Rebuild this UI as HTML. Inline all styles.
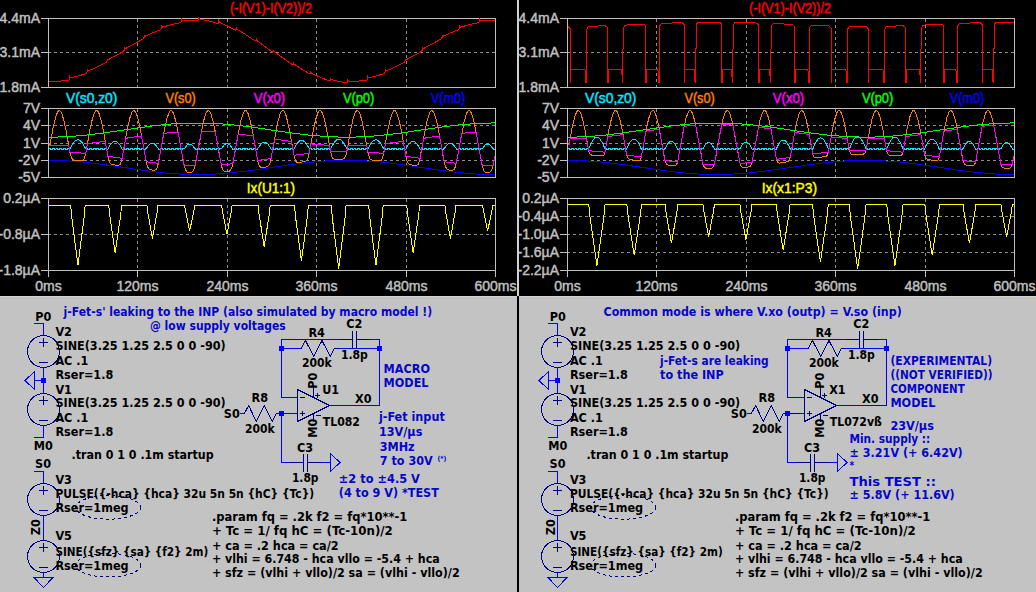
<!DOCTYPE html>
<html><head><meta charset="utf-8"><title>LTspice</title>
<style>html,body{margin:0;padding:0;background:#000;width:1036px;height:592px;overflow:hidden}svg{display:block}text{white-space:pre}</style>
</head><body>
<svg width="1036" height="592" viewBox="0 0 1036 592" shape-rendering="crispEdges"><defs><clipPath id="cl"><rect x="49" y="0" width="446" height="296"/></clipPath><clipPath id="cr"><rect x="568" y="0" width="446" height="296"/></clipPath></defs><rect x="0.00" y="0.00" width="1036.00" height="592.00" fill="#000"/>
<rect x="0.00" y="0.00" width="517.00" height="296.00" fill="#000"/>
<line x1="137.50" y1="19.00" x2="137.50" y2="87.00" stroke="#8c8c8c" stroke-width="1" stroke-dasharray="3 3"/>
<line x1="227.50" y1="19.00" x2="227.50" y2="87.00" stroke="#8c8c8c" stroke-width="1" stroke-dasharray="3 3"/>
<line x1="316.50" y1="19.00" x2="316.50" y2="87.00" stroke="#8c8c8c" stroke-width="1" stroke-dasharray="3 3"/>
<line x1="406.50" y1="19.00" x2="406.50" y2="87.00" stroke="#8c8c8c" stroke-width="1" stroke-dasharray="3 3"/>
<line x1="48.00" y1="52.50" x2="495.00" y2="52.50" stroke="#8c8c8c" stroke-width="1" stroke-dasharray="3 3"/>
<line x1="137.50" y1="109.00" x2="137.50" y2="177.00" stroke="#8c8c8c" stroke-width="1" stroke-dasharray="3 3"/>
<line x1="227.50" y1="109.00" x2="227.50" y2="177.00" stroke="#8c8c8c" stroke-width="1" stroke-dasharray="3 3"/>
<line x1="316.50" y1="109.00" x2="316.50" y2="177.00" stroke="#8c8c8c" stroke-width="1" stroke-dasharray="3 3"/>
<line x1="406.50" y1="109.00" x2="406.50" y2="177.00" stroke="#8c8c8c" stroke-width="1" stroke-dasharray="3 3"/>
<line x1="48.00" y1="125.50" x2="495.00" y2="125.50" stroke="#8c8c8c" stroke-width="1" stroke-dasharray="3 3"/>
<line x1="48.00" y1="143.50" x2="495.00" y2="143.50" stroke="#8c8c8c" stroke-width="1" stroke-dasharray="3 3"/>
<line x1="48.00" y1="160.50" x2="495.00" y2="160.50" stroke="#8c8c8c" stroke-width="1" stroke-dasharray="3 3"/>
<line x1="137.50" y1="199.00" x2="137.50" y2="270.00" stroke="#8c8c8c" stroke-width="1" stroke-dasharray="3 3"/>
<line x1="227.50" y1="199.00" x2="227.50" y2="270.00" stroke="#8c8c8c" stroke-width="1" stroke-dasharray="3 3"/>
<line x1="316.50" y1="199.00" x2="316.50" y2="270.00" stroke="#8c8c8c" stroke-width="1" stroke-dasharray="3 3"/>
<line x1="406.50" y1="199.00" x2="406.50" y2="270.00" stroke="#8c8c8c" stroke-width="1" stroke-dasharray="3 3"/>
<line x1="48.00" y1="234.50" x2="495.00" y2="234.50" stroke="#8c8c8c" stroke-width="1" stroke-dasharray="3 3"/>
<line x1="41.00" y1="18.50" x2="48.00" y2="18.50" stroke="#c0c0c0" stroke-width="1" />
<text x="40.00" y="23.00" fill="#c0c0c0" stroke="#c0c0c0" style="font-family:'Liberation Sans',sans-serif;font-weight:normal;font-size:14px;stroke-width:0.45px" text-anchor="end">4.4mA</text>
<line x1="41.00" y1="52.50" x2="48.00" y2="52.50" stroke="#c0c0c0" stroke-width="1" />
<text x="40.00" y="57.00" fill="#c0c0c0" stroke="#c0c0c0" style="font-family:'Liberation Sans',sans-serif;font-weight:normal;font-size:14px;stroke-width:0.45px" text-anchor="end">3.1mA</text>
<line x1="41.00" y1="87.50" x2="48.00" y2="87.50" stroke="#c0c0c0" stroke-width="1" />
<text x="40.00" y="92.00" fill="#c0c0c0" stroke="#c0c0c0" style="font-family:'Liberation Sans',sans-serif;font-weight:normal;font-size:14px;stroke-width:0.45px" text-anchor="end">1.8mA</text>
<line x1="41.00" y1="108.50" x2="48.00" y2="108.50" stroke="#c0c0c0" stroke-width="1" />
<text x="40.00" y="113.00" fill="#c0c0c0" stroke="#c0c0c0" style="font-family:'Liberation Sans',sans-serif;font-weight:normal;font-size:14px;stroke-width:0.45px" text-anchor="end">7V</text>
<line x1="41.00" y1="125.50" x2="48.00" y2="125.50" stroke="#c0c0c0" stroke-width="1" />
<text x="40.00" y="130.00" fill="#c0c0c0" stroke="#c0c0c0" style="font-family:'Liberation Sans',sans-serif;font-weight:normal;font-size:14px;stroke-width:0.45px" text-anchor="end">4V</text>
<line x1="41.00" y1="143.50" x2="48.00" y2="143.50" stroke="#c0c0c0" stroke-width="1" />
<text x="40.00" y="148.00" fill="#c0c0c0" stroke="#c0c0c0" style="font-family:'Liberation Sans',sans-serif;font-weight:normal;font-size:14px;stroke-width:0.45px" text-anchor="end">1V</text>
<line x1="41.00" y1="160.50" x2="48.00" y2="160.50" stroke="#c0c0c0" stroke-width="1" />
<text x="40.00" y="165.00" fill="#c0c0c0" stroke="#c0c0c0" style="font-family:'Liberation Sans',sans-serif;font-weight:normal;font-size:14px;stroke-width:0.45px" text-anchor="end">-2V</text>
<line x1="41.00" y1="177.50" x2="48.00" y2="177.50" stroke="#c0c0c0" stroke-width="1" />
<text x="40.00" y="182.00" fill="#c0c0c0" stroke="#c0c0c0" style="font-family:'Liberation Sans',sans-serif;font-weight:normal;font-size:14px;stroke-width:0.45px" text-anchor="end">-5V</text>
<line x1="41.00" y1="198.50" x2="48.00" y2="198.50" stroke="#c0c0c0" stroke-width="1" />
<text x="40.00" y="203.00" fill="#c0c0c0" stroke="#c0c0c0" style="font-family:'Liberation Sans',sans-serif;font-weight:normal;font-size:14px;stroke-width:0.45px" text-anchor="end">0.2µA</text>
<line x1="41.00" y1="234.50" x2="48.00" y2="234.50" stroke="#c0c0c0" stroke-width="1" />
<text x="40.00" y="239.00" fill="#c0c0c0" stroke="#c0c0c0" style="font-family:'Liberation Sans',sans-serif;font-weight:normal;font-size:14px;stroke-width:0.45px" text-anchor="end">-0.8µA</text>
<line x1="41.00" y1="270.50" x2="48.00" y2="270.50" stroke="#c0c0c0" stroke-width="1" />
<text x="40.00" y="275.00" fill="#c0c0c0" stroke="#c0c0c0" style="font-family:'Liberation Sans',sans-serif;font-weight:normal;font-size:14px;stroke-width:0.45px" text-anchor="end">-1.8µA</text>
<line x1="48.50" y1="270.00" x2="48.50" y2="277.00" stroke="#c0c0c0" stroke-width="1" />
<text x="48.50" y="290.50" fill="#c0c0c0" stroke="#c0c0c0" style="font-family:'Liberation Sans',sans-serif;font-weight:normal;font-size:14px;stroke-width:0.45px" text-anchor="middle">0ms</text>
<line x1="137.50" y1="270.00" x2="137.50" y2="277.00" stroke="#c0c0c0" stroke-width="1" />
<text x="137.50" y="290.50" fill="#c0c0c0" stroke="#c0c0c0" style="font-family:'Liberation Sans',sans-serif;font-weight:normal;font-size:14px;stroke-width:0.45px" text-anchor="middle">120ms</text>
<line x1="227.50" y1="270.00" x2="227.50" y2="277.00" stroke="#c0c0c0" stroke-width="1" />
<text x="227.50" y="290.50" fill="#c0c0c0" stroke="#c0c0c0" style="font-family:'Liberation Sans',sans-serif;font-weight:normal;font-size:14px;stroke-width:0.45px" text-anchor="middle">240ms</text>
<line x1="316.50" y1="270.00" x2="316.50" y2="277.00" stroke="#c0c0c0" stroke-width="1" />
<text x="316.50" y="290.50" fill="#c0c0c0" stroke="#c0c0c0" style="font-family:'Liberation Sans',sans-serif;font-weight:normal;font-size:14px;stroke-width:0.45px" text-anchor="middle">360ms</text>
<line x1="406.50" y1="270.00" x2="406.50" y2="277.00" stroke="#c0c0c0" stroke-width="1" />
<text x="406.50" y="290.50" fill="#c0c0c0" stroke="#c0c0c0" style="font-family:'Liberation Sans',sans-serif;font-weight:normal;font-size:14px;stroke-width:0.45px" text-anchor="middle">480ms</text>
<line x1="495.50" y1="270.00" x2="495.50" y2="277.00" stroke="#c0c0c0" stroke-width="1" />
<text x="495.50" y="290.50" fill="#c0c0c0" stroke="#c0c0c0" style="font-family:'Liberation Sans',sans-serif;font-weight:normal;font-size:14px;stroke-width:0.45px" text-anchor="middle">600ms</text>
<rect x="48.5" y="18.5" width="447" height="69" fill="none" stroke="#c0c0c0" stroke-width="1"/>
<rect x="48.5" y="108.5" width="447" height="69" fill="none" stroke="#c0c0c0" stroke-width="1"/>
<rect x="48.5" y="198.5" width="447" height="72" fill="none" stroke="#c0c0c0" stroke-width="1"/>
<text x="271.00" y="12.50" fill="#ff0000" stroke="#ff0000" style="font-family:'Liberation Sans',sans-serif;font-weight:normal;font-size:14px;stroke-width:0.45px" textLength="82.0" lengthAdjust="spacingAndGlyphs" text-anchor="middle">(-I(V1)-I(V2))/2</text>
<text x="91.70" y="102.50" fill="#00e8ff" stroke="#00e8ff" style="font-family:'Liberation Sans',sans-serif;font-weight:normal;font-size:14px;stroke-width:0.45px" textLength="51.4" lengthAdjust="spacingAndGlyphs" text-anchor="middle">V(s0,z0)</text>
<text x="180.60" y="102.50" fill="#ff8000" stroke="#ff8000" style="font-family:'Liberation Sans',sans-serif;font-weight:normal;font-size:14px;stroke-width:0.45px" textLength="30.4" lengthAdjust="spacingAndGlyphs" text-anchor="middle">V(s0)</text>
<text x="269.50" y="102.50" fill="#ff00ff" stroke="#ff00ff" style="font-family:'Liberation Sans',sans-serif;font-weight:normal;font-size:14px;stroke-width:0.45px" textLength="31.4" lengthAdjust="spacingAndGlyphs" text-anchor="middle">V(x0)</text>
<text x="358.60" y="102.50" fill="#00ff00" stroke="#00ff00" style="font-family:'Liberation Sans',sans-serif;font-weight:normal;font-size:14px;stroke-width:0.45px" textLength="31.4" lengthAdjust="spacingAndGlyphs" text-anchor="middle">V(p0)</text>
<text x="448.00" y="102.50" fill="#0000ff" stroke="#0000ff" style="font-family:'Liberation Sans',sans-serif;font-weight:normal;font-size:14px;stroke-width:0.45px" textLength="34.6" lengthAdjust="spacingAndGlyphs" text-anchor="middle">V(m0)</text>
<text x="271.00" y="193.00" fill="#ffff00" stroke="#ffff00" style="font-family:'Liberation Sans',sans-serif;font-weight:normal;font-size:14px;stroke-width:0.45px" textLength="48.3" lengthAdjust="spacingAndGlyphs" text-anchor="middle">Ix(U1:1)</text>
<g clip-path="url(#cl)">
<polyline points="48.50,81.10 53.94,81.32 58.71,81.22 63.62,80.80 68.61,80.04 69.21,79.68 69.81,78.44 69.88,76.61 70.55,77.67 71.22,77.75 78.60,75.97 86.12,73.52 86.57,73.10 87.17,71.76 87.24,69.93 87.91,70.87 88.51,70.83 96.78,67.25 105.87,62.74 106.46,62.18 107.06,60.74 107.13,58.88 107.80,59.72 108.25,59.70 123.52,51.42 124.42,49.58 124.49,47.74 125.09,48.51 125.53,48.53 143.34,38.90 144.31,37.05 144.38,35.20 145.05,36.06 145.42,36.08 153.25,32.57 160.70,29.65 161.67,27.94 161.74,26.11 162.34,27.01 162.71,27.14 171.80,24.45 180.66,22.71 181.56,21.25 181.63,19.42 182.60,20.69 190.35,20.36 197.95,20.77 198.32,20.56 198.92,19.52 198.99,17.72 199.96,19.21 208.82,20.87 217.91,23.60 218.29,23.42 218.81,22.59 218.88,20.80 219.92,22.60 227.37,25.93 235.20,30.06 235.57,30.02 236.17,29.25 236.24,27.49 237.28,29.47 245.55,34.54 255.16,41.00 255.54,40.94 256.06,40.29 256.13,38.52 257.17,40.66 272.37,52.02 272.82,52.09 273.42,51.43 273.49,49.68 274.16,51.38 274.61,51.90 292.04,64.49 292.64,64.74 293.31,63.98 293.38,62.21 294.05,63.86 294.57,64.43 302.32,69.53 309.55,73.83 310.07,73.85 310.67,73.07 310.74,71.31 311.56,73.06 313.42,74.11 321.47,77.85 329.22,80.74 329.89,80.79 330.56,79.78 330.63,77.98 331.38,79.48 332.42,79.93 339.72,81.73 346.87,82.77 347.32,82.55 347.92,81.49 347.99,79.69 348.88,81.10 351.27,81.24 358.57,81.06 366.02,80.14 366.91,79.95 367.29,79.56 367.81,78.44 367.88,76.61 368.55,77.67 369.22,77.75 376.60,75.97 384.12,73.52 384.57,73.10 385.17,71.76 385.24,69.93 385.91,70.87 386.58,70.80 394.85,67.21 403.94,62.70 404.46,62.18 405.06,60.74 405.13,58.88 405.80,59.72 406.25,59.70 420.93,51.79 421.75,51.16 422.42,49.58 422.49,47.74 423.09,48.51 423.53,48.53 441.34,38.90 442.31,37.05 442.38,35.20 443.05,36.06 443.42,36.08 451.25,32.57 458.70,29.65 459.67,27.94 459.74,26.11 460.34,27.01 460.71,27.14 469.87,24.44 478.59,22.74 478.96,22.46 479.56,21.25 479.63,19.42 480.60,20.70 488.20,20.40 495.50,20.83" fill="none" stroke="#ff0000" stroke-width="1" />
<polyline points="48.50,149.27 48.59,148.23 50.36,148.23 50.46,149.27 52.23,149.27 52.32,148.23 54.09,148.23 54.18,149.27 55.95,149.27 56.04,148.23 57.81,148.23 57.91,149.27 59.67,149.27 59.77,148.23 61.54,148.23 61.63,149.27 63.40,149.27 63.49,148.23 65.26,148.23 65.36,149.27 67.12,149.27 67.22,148.23 68.99,148.23 69.08,149.27 69.83,149.27 71.41,145.91 73.92,142.16 75.88,140.34 77.83,139.70 79.32,140.07 80.91,141.24 83.14,144.11 85.75,148.74 85.84,148.23 87.61,148.23 87.71,149.27 89.47,149.27 89.57,148.23 91.34,148.23 91.43,149.27 93.20,149.27 93.29,148.23 95.06,148.23 95.16,149.27 96.92,149.27 97.02,148.23 98.79,148.23 98.88,149.27 100.65,149.27 100.74,148.23 102.51,148.23 102.61,149.27 104.38,149.27 104.47,148.23 106.24,148.23 106.33,149.27 107.82,149.27 109.12,146.56 111.45,143.33 113.22,141.82 114.99,141.29 116.76,141.79 118.53,143.28 120.77,146.39 122.16,149.27 123.00,149.27 123.09,148.23 124.86,148.23 124.96,149.27 126.72,149.27 126.82,148.23 128.59,148.23 128.68,149.27 130.45,149.27 130.54,148.23 132.31,148.23 132.41,149.27 134.18,149.27 134.27,148.23 136.04,148.23 136.13,149.27 137.90,149.27 137.99,148.23 139.76,148.23 139.86,149.27 141.62,149.27 141.72,148.23 143.49,148.23 143.58,149.27 145.35,149.27 145.44,148.23 146.09,148.23 146.19,148.73 147.96,146.09 149.54,144.35 150.94,143.42 152.33,143.11 153.82,143.49 155.41,144.68 158.29,148.61 158.39,148.23 158.48,149.27 160.25,149.27 160.34,148.23 162.11,148.23 162.21,149.27 163.97,149.27 164.07,148.23 165.84,148.23 165.93,149.27 167.70,149.27 167.79,148.23 169.56,148.23 169.66,149.27 171.43,149.27 171.52,148.23 173.29,148.23 173.38,149.27 175.15,149.27 175.24,148.23 177.01,148.23 177.11,149.27 178.88,149.27 178.97,148.23 180.74,148.23 180.83,149.27 182.60,149.27 182.69,148.23 184.09,148.23 184.18,148.71 187.07,145.19 188.37,144.37 189.68,144.10 190.98,144.39 192.28,145.23 195.08,148.65 195.17,148.23 195.64,148.23 195.73,149.27 197.50,149.27 197.59,148.23 199.36,148.23 199.46,149.27 201.22,149.27 201.32,148.23 203.09,148.23 203.18,149.27 204.95,149.27 205.04,148.23 206.81,148.23 206.91,149.27 208.68,149.27 208.77,148.23 210.54,148.23 210.63,149.27 212.40,149.27 212.49,148.23 214.26,148.23 214.36,149.27 216.12,149.27 216.22,148.23 217.99,148.23 218.08,149.27 219.85,149.27 219.94,148.23 221.25,148.23 221.34,148.65 224.32,144.87 225.72,143.96 227.02,143.68 228.51,144.05 230.00,145.12 232.70,148.61 232.89,148.23 232.98,149.27 234.75,149.27 234.84,148.23 236.61,148.23 236.71,149.27 238.47,149.27 238.57,148.23 240.34,148.23 240.43,149.27 242.20,149.27 242.29,148.23 244.06,148.23 244.16,149.27 245.93,149.27 246.02,148.23 247.79,148.23 247.88,149.27 249.65,149.27 249.74,148.23 251.51,148.23 251.61,149.27 253.38,149.27 253.47,148.23 255.24,148.23 255.33,149.27 257.10,149.27 257.19,148.23 257.66,148.23 257.75,148.63 261.20,143.69 262.78,142.49 264.36,142.09 266.04,142.57 267.81,144.03 270.14,147.21 271.07,149.27 272.00,149.27 272.09,148.23 273.86,148.23 273.96,149.27 275.73,149.27 275.82,148.23 277.59,148.23 277.68,149.27 279.45,149.27 279.54,148.23 281.31,148.23 281.41,149.27 283.18,149.27 283.27,148.23 285.04,148.23 285.13,149.27 286.90,149.27 286.99,148.23 288.76,148.23 288.86,149.27 290.62,149.27 290.72,148.23 292.49,148.23 292.58,149.27 293.88,149.27 295.37,146.11 297.80,142.55 299.66,140.86 301.52,140.27 303.29,140.77 305.06,142.25 307.01,144.86 309.25,148.74 309.34,148.23 311.11,148.23 311.21,149.27 312.98,149.27 313.07,148.23 314.84,148.23 314.93,149.27 316.70,149.27 316.79,148.23 318.56,148.23 318.66,149.27 320.43,149.27 320.52,148.23 322.29,148.23 322.38,149.27 324.15,149.27 324.24,148.23 326.01,148.23 326.11,149.27 327.88,149.27 327.97,148.23 329.74,148.23 329.83,149.27 330.48,149.27 332.25,145.57 334.77,141.77 336.72,139.93 338.68,139.28 340.26,139.68 341.94,140.98 344.17,143.92 346.87,148.74 346.97,148.23 348.36,148.23 348.46,149.27 350.23,149.27 350.32,148.23 352.09,148.23 352.18,149.27 353.95,149.27 354.04,148.23 355.81,148.23 355.91,149.27 357.68,149.27 357.77,148.23 359.54,148.23 359.63,149.27 361.40,149.27 361.49,148.23 363.26,148.23 363.36,149.27 365.12,149.27 365.22,148.23 366.99,148.23 367.08,149.27 367.83,149.27 369.41,145.91 371.92,142.16 373.88,140.34 375.83,139.70 377.32,140.07 378.91,141.24 381.14,144.11 383.75,148.74 383.84,148.23 385.61,148.23 385.71,149.27 387.48,149.27 387.57,148.23 389.34,148.23 389.43,149.27 391.20,149.27 391.29,148.23 393.06,148.23 393.16,149.27 394.93,149.27 395.02,148.23 396.79,148.23 396.88,149.27 398.65,149.27 398.74,148.23 400.51,148.23 400.61,149.27 402.38,149.27 402.47,148.23 404.24,148.23 404.33,149.27 405.82,149.27 407.12,146.56 409.45,143.33 411.22,141.82 412.99,141.29 414.76,141.79 416.53,143.28 418.76,146.39 420.16,149.27 421.00,149.27 421.09,148.23 422.86,148.23 422.96,149.27 424.73,149.27 424.82,148.23 426.59,148.23 426.68,149.27 428.45,149.27 428.54,148.23 430.31,148.23 430.41,149.27 432.18,149.27 432.27,148.23 434.04,148.23 434.13,149.27 435.90,149.27 435.99,148.23 437.76,148.23 437.86,149.27 439.62,149.27 439.72,148.23 441.49,148.23 441.58,149.27 443.35,149.27 443.44,148.23 444.09,148.23 444.19,148.73 445.96,146.09 447.54,144.35 448.94,143.42 450.33,143.11 451.82,143.49 453.41,144.68 456.29,148.61 456.39,148.23 456.48,149.27 458.25,149.27 458.34,148.23 460.11,148.23 460.21,149.27 461.98,149.27 462.07,148.23 463.84,148.23 463.93,149.27 465.70,149.27 465.79,148.23 467.56,148.23 467.66,149.27 469.43,149.27 469.52,148.23 471.29,148.23 471.38,149.27 473.15,149.27 473.24,148.23 475.01,148.23 475.11,149.27 476.88,149.27 476.97,148.23 478.74,148.23 478.83,149.27 480.60,149.27 480.69,148.23 482.09,148.23 482.18,148.71 485.07,145.19 486.37,144.37 487.68,144.10 488.98,144.39 490.29,145.23 493.08,148.65 493.17,148.23 493.64,148.23 493.73,149.27 495.50,149.27" fill="none" stroke="#00e8ff" stroke-width="1" />
<polyline points="48.50,144.87 49.99,144.87 53.44,126.02 56.04,115.59 57.91,111.47 58.84,110.63 59.77,110.63 60.70,111.47 61.72,113.35 63.87,120.21 66.19,131.23 69.92,152.31 71.50,158.00 72.62,159.47 74.48,160.20 80.81,160.79 83.14,160.31 84.35,158.65 85.38,155.14 90.03,129.28 92.55,118.07 94.69,112.21 95.81,110.79 96.83,110.56 97.86,111.35 98.97,113.35 101.21,120.59 103.54,131.73 107.82,156.00 109.31,161.64 110.43,163.50 112.01,164.49 116.48,165.34 119.09,165.15 119.93,164.55 120.58,163.56 121.88,159.31 127.19,129.76 129.80,118.07 131.94,112.21 133.06,110.79 134.08,110.56 135.20,111.47 136.32,113.57 138.64,121.36 140.88,132.23 145.91,160.47 147.31,166.01 148.33,168.16 149.73,169.46 152.24,170.20 154.76,170.13 155.87,169.54 156.80,168.29 158.39,163.28 164.44,129.76 167.05,118.07 169.19,112.21 170.21,110.87 171.24,110.54 172.36,111.35 173.47,113.35 175.89,121.36 178.13,132.23 183.16,160.47 184.93,168.16 185.95,170.62 187.07,171.94 188.75,172.66 190.89,172.65 192.19,172.10 193.12,171.15 194.71,167.28 203.65,120.59 206.16,112.74 207.37,110.95 208.49,110.54 209.61,111.35 210.72,113.35 213.15,121.36 215.38,132.23 220.32,159.99 221.99,167.40 222.92,169.73 224.04,171.08 225.53,171.66 227.67,171.61 229.26,171.08 230.37,170.17 232.05,166.57 233.54,159.99 238.57,131.73 240.90,120.59 243.32,112.94 244.53,111.04 245.65,110.53 246.76,111.24 247.88,113.14 250.30,120.97 252.63,132.23 257.57,159.99 258.59,164.10 259.43,166.08 260.45,167.17 261.76,167.57 263.90,167.48 266.51,166.94 268.09,166.13 269.21,164.73 270.04,162.64 271.07,158.52 277.68,122.57 279.82,114.77 280.85,112.38 281.78,111.04 282.80,110.52 283.92,111.13 284.94,112.74 286.06,115.59 288.95,127.39 294.63,158.27 295.37,160.50 296.12,161.68 297.14,162.33 298.63,162.50 305.43,161.50 306.83,160.58 307.76,159.03 309.25,153.41 313.25,130.74 315.68,119.47 318.00,112.55 319.12,110.95 320.15,110.53 321.17,111.13 322.19,112.74 324.43,119.47 326.85,130.74 330.58,151.82 332.07,157.31 333.00,158.66 334.39,159.28 342.12,159.22 343.52,158.92 344.45,158.34 345.85,155.64 346.87,151.31 350.88,128.80 352.93,119.47 355.25,112.55 356.37,110.95 357.40,110.53 358.42,111.13 359.54,112.94 361.77,119.83 364.10,130.74 367.92,152.31 369.41,157.80 370.43,159.31 371.83,160.05 379.75,160.76 380.86,160.47 381.61,159.90 382.82,157.33 388.03,129.28 390.08,119.83 392.41,112.74 393.53,111.04 394.65,110.53 395.67,111.13 396.79,112.94 399.12,120.21 401.54,131.73 405.82,156.00 407.22,161.40 408.24,163.29 409.64,164.34 412.71,165.11 416.16,165.37 417.18,165.11 418.02,164.45 419.32,161.53 425.19,129.76 427.24,120.21 429.66,112.74 430.78,111.04 431.90,110.53 433.01,111.24 434.13,113.14 436.55,120.97 438.79,131.73 443.91,160.47 445.21,165.74 446.24,168.02 447.45,169.29 449.40,170.06 452.01,170.26 453.31,169.91 454.25,169.15 455.74,165.80 464.30,120.97 466.72,113.14 467.94,111.13 469.05,110.52 470.17,111.13 471.29,112.94 473.62,120.21 475.94,131.23 481.81,163.73 482.93,168.16 484.05,170.77 485.54,172.25 487.58,172.75 489.73,172.37 491.22,171.01 492.15,169.04 493.08,165.89 495.50,153.42" fill="none" stroke="#ff8000" stroke-width="1" />
<polyline points="48.50,145.88 68.61,145.24 69.92,152.00 85.75,153.39 87.52,143.58 105.21,141.32 107.91,156.22 122.07,158.33 125.70,138.28 141.53,135.95 146.19,161.84 158.29,163.34 163.79,133.24 178.04,132.10 184.18,165.37 195.08,165.65 201.41,131.52 215.29,132.00 221.34,164.77 232.79,163.73 238.20,133.99 253.28,135.92 257.75,160.59 271.07,158.52 274.51,139.07 291.46,141.55 293.98,155.25 309.25,153.39 310.93,143.95 329.46,145.42 330.58,151.68 346.87,151.28 347.90,145.87 366.62,145.24 367.92,152.00 383.75,153.39 385.52,143.58 403.21,141.32 405.91,156.22 420.07,158.33 423.70,138.28 439.53,135.95 444.19,161.84 456.29,163.34 461.79,133.24 476.04,132.10 482.18,165.37 493.08,165.65 495.50,153.42" fill="none" stroke="#ff00ff" stroke-width="1" />
<polyline points="48.50,137.25 65.64,136.79 83.52,135.38 102.14,133.12 154.29,125.66 171.43,123.93 187.07,123.05 207.19,123.02 227.30,124.25 248.16,126.60 290.62,132.81 308.50,135.06 327.88,136.70 346.50,137.25 362.89,136.83 379.28,135.60 398.65,133.33 439.62,127.31 457.50,125.06 476.88,123.42 495.50,122.88" fill="none" stroke="#00ff00" stroke-width="1" />
<polyline points="48.50,160.25 65.64,160.71 83.52,162.12 102.14,164.38 154.29,171.84 171.43,173.57 187.07,174.45 207.19,174.48 227.30,173.25 248.16,170.90 290.62,164.69 308.50,162.44 327.88,160.80 346.50,160.25 362.89,160.67 379.28,161.90 398.65,164.17 439.62,170.19 457.50,172.44 476.88,174.08 495.50,174.62" fill="none" stroke="#0000ff" stroke-width="1" />
<polyline points="48.50,205.50 70.70,205.50 71.82,217.86 77.93,265.16 84.04,217.86 85.15,205.50 108.77,205.52 109.66,214.95 115.18,252.82 120.69,214.95 121.58,205.52 146.91,205.50 147.73,212.24 152.43,238.65 157.12,212.24 157.94,205.50 184.69,205.50 185.43,210.57 189.68,230.96 193.92,210.57 194.67,205.50 221.71,205.50 222.53,211.52 226.93,234.24 231.32,211.52 232.14,205.50 258.14,205.50 259.04,213.89 264.18,246.58 269.32,213.89 270.21,205.50 294.50,205.50 295.54,216.91 301.43,260.75 307.31,216.91 308.36,205.50 331.30,205.50 332.34,218.10 338.68,268.44 345.01,218.10 346.05,205.50 368.70,205.50 369.82,217.86 375.93,265.16 382.04,217.86 383.15,205.50 406.77,205.52 407.66,214.95 413.18,252.82 418.69,214.95 419.58,205.52 444.91,205.50 445.73,212.24 450.43,238.65 455.12,212.24 455.94,205.50 482.69,205.50 483.43,210.57 487.68,230.96 491.92,210.57 492.59,205.62 495.50,205.50" fill="none" stroke="#ffff00" stroke-width="1" />
</g>
<rect x="0.00" y="296.00" width="517.00" height="296.00" fill="#c3c3c3"/>
<rect x="0.00" y="296.00" width="517.00" height="1.00" fill="#d2d2d2"/>
<line x1="34.00" y1="323.50" x2="44.00" y2="323.50" stroke="#0000ff" stroke-width="1" />
<line x1="43.50" y1="323.00" x2="43.50" y2="335.00" stroke="#0000ff" stroke-width="1" />
<circle cx="43.50" cy="351.50" r="16" fill="none" stroke="#000080" stroke-width="1"/>
<line x1="39.00" y1="342.50" x2="48.00" y2="342.50" stroke="#000080" stroke-width="1" />
<line x1="43.50" y1="338.00" x2="43.50" y2="347.00" stroke="#000080" stroke-width="1" />
<line x1="39.00" y1="362.50" x2="48.00" y2="362.50" stroke="#000080" stroke-width="1" />
<line x1="43.50" y1="367.00" x2="43.50" y2="394.00" stroke="#0000ff" stroke-width="1" />
<rect x="41.00" y="378.00" width="5.00" height="5.00" fill="#0000ff"/>
<line x1="34.50" y1="380.50" x2="43.50" y2="380.50" stroke="#0000ff" stroke-width="1" />
<polygon points="34.50,371.50 34.50,389.50 25.00,380.50" fill="none" stroke="#0000ff" stroke-width="1"/>
<circle cx="43.50" cy="409.50" r="16" fill="none" stroke="#000080" stroke-width="1"/>
<line x1="39.00" y1="400.50" x2="48.00" y2="400.50" stroke="#000080" stroke-width="1" />
<line x1="43.50" y1="396.00" x2="43.50" y2="405.00" stroke="#000080" stroke-width="1" />
<line x1="39.00" y1="420.50" x2="48.00" y2="420.50" stroke="#000080" stroke-width="1" />
<line x1="43.50" y1="425.00" x2="43.50" y2="438.00" stroke="#0000ff" stroke-width="1" />
<line x1="34.00" y1="437.50" x2="44.00" y2="437.50" stroke="#0000ff" stroke-width="1" />
<line x1="34.00" y1="471.50" x2="44.00" y2="471.50" stroke="#0000ff" stroke-width="1" />
<line x1="43.50" y1="471.00" x2="43.50" y2="484.00" stroke="#0000ff" stroke-width="1" />
<circle cx="43.50" cy="499.50" r="16" fill="none" stroke="#000080" stroke-width="1"/>
<line x1="39.00" y1="490.50" x2="48.00" y2="490.50" stroke="#000080" stroke-width="1" />
<line x1="43.50" y1="486.00" x2="43.50" y2="495.00" stroke="#000080" stroke-width="1" />
<line x1="39.00" y1="510.50" x2="48.00" y2="510.50" stroke="#000080" stroke-width="1" />
<line x1="43.50" y1="515.00" x2="43.50" y2="541.00" stroke="#0000ff" stroke-width="1" />
<circle cx="43.50" cy="556.50" r="16" fill="none" stroke="#000080" stroke-width="1"/>
<line x1="39.00" y1="547.50" x2="48.00" y2="547.50" stroke="#000080" stroke-width="1" />
<line x1="43.50" y1="543.00" x2="43.50" y2="552.00" stroke="#000080" stroke-width="1" />
<line x1="39.00" y1="567.50" x2="48.00" y2="567.50" stroke="#000080" stroke-width="1" />
<line x1="43.50" y1="572.00" x2="43.50" y2="578.00" stroke="#0000ff" stroke-width="1" />
<polygon points="34.00,577.50 53.00,577.50 43.50,587.50" fill="none" stroke="#0000ff" stroke-width="1"/>
<ellipse cx="108.30" cy="507.40" rx="32.5" ry="11.8" fill="none" stroke="#000080" stroke-width="1" stroke-dasharray="3 3"/>
<ellipse cx="108.30" cy="565.20" rx="32.5" ry="11.8" fill="none" stroke="#000080" stroke-width="1" stroke-dasharray="3 3"/>
<text x="55.40" y="335.70" fill="#000000" style="font-family:'DejaVu Sans Condensed','DejaVu Sans',sans-serif;font-weight:bold;font-stretch:condensed;font-size:12.5px">V2</text>
<text x="55.40" y="349.90" fill="#000000" style="font-family:'DejaVu Sans Condensed','DejaVu Sans',sans-serif;font-weight:bold;font-stretch:condensed;font-size:12.5px" textLength="170.3" lengthAdjust="spacingAndGlyphs">SINE(3.25 1.25 2.5 0 0 -90)</text>
<text x="55.40" y="364.60" fill="#000000" style="font-family:'DejaVu Sans Condensed','DejaVu Sans',sans-serif;font-weight:bold;font-stretch:condensed;font-size:12.5px">AC .1</text>
<text x="55.40" y="378.50" fill="#000000" style="font-family:'DejaVu Sans Condensed','DejaVu Sans',sans-serif;font-weight:bold;font-stretch:condensed;font-size:12.5px">Rser=1.8</text>
<text x="55.40" y="393.50" fill="#000000" style="font-family:'DejaVu Sans Condensed','DejaVu Sans',sans-serif;font-weight:bold;font-stretch:condensed;font-size:12.5px">V1</text>
<text x="55.40" y="407.20" fill="#000000" style="font-family:'DejaVu Sans Condensed','DejaVu Sans',sans-serif;font-weight:bold;font-stretch:condensed;font-size:12.5px" textLength="170.3" lengthAdjust="spacingAndGlyphs">SINE(3.25 1.25 2.5 0 0 -90)</text>
<text x="55.40" y="421.50" fill="#000000" style="font-family:'DejaVu Sans Condensed','DejaVu Sans',sans-serif;font-weight:bold;font-stretch:condensed;font-size:12.5px">AC .1</text>
<text x="55.40" y="435.80" fill="#000000" style="font-family:'DejaVu Sans Condensed','DejaVu Sans',sans-serif;font-weight:bold;font-stretch:condensed;font-size:12.5px">Rser=1.8</text>
<text x="55.40" y="483.50" fill="#000000" style="font-family:'DejaVu Sans Condensed','DejaVu Sans',sans-serif;font-weight:bold;font-stretch:condensed;font-size:12.5px">V3</text>
<text x="55.40" y="497.50" fill="#000000" style="font-family:'DejaVu Sans Condensed','DejaVu Sans',sans-serif;font-weight:bold;font-stretch:condensed;font-size:12.5px" textLength="258.8" lengthAdjust="spacingAndGlyphs">PULSE({-hca} {hca} 32u 5n 5n {hC} {Tc})</text>
<text x="55.40" y="512.20" fill="#000000" style="font-family:'DejaVu Sans Condensed','DejaVu Sans',sans-serif;font-weight:bold;font-stretch:condensed;font-size:12.5px">Rser=1meg</text>
<text x="55.40" y="540.00" fill="#000000" style="font-family:'DejaVu Sans Condensed','DejaVu Sans',sans-serif;font-weight:bold;font-stretch:condensed;font-size:12.5px">V5</text>
<text x="55.40" y="555.50" fill="#000000" style="font-family:'DejaVu Sans Condensed','DejaVu Sans',sans-serif;font-weight:bold;font-stretch:condensed;font-size:12.5px" textLength="152.8" lengthAdjust="spacingAndGlyphs">SINE({sfz} {sa} {f2} 2m)</text>
<text x="55.40" y="569.60" fill="#000000" style="font-family:'DejaVu Sans Condensed','DejaVu Sans',sans-serif;font-weight:bold;font-stretch:condensed;font-size:12.5px">Rser=1meg</text>
<text x="35.20" y="320.80" fill="#000000" style="font-family:'DejaVu Sans Condensed','DejaVu Sans',sans-serif;font-weight:bold;font-stretch:condensed;font-size:12.5px">P0</text>
<text x="33.80" y="449.70" fill="#000000" style="font-family:'DejaVu Sans Condensed','DejaVu Sans',sans-serif;font-weight:bold;font-stretch:condensed;font-size:12.5px">M0</text>
<text x="35.10" y="468.30" fill="#000000" style="font-family:'DejaVu Sans Condensed','DejaVu Sans',sans-serif;font-weight:bold;font-stretch:condensed;font-size:12.5px">S0</text>
<text x="40.20" y="535.20" fill="#000000" style="font-family:'DejaVu Sans Condensed','DejaVu Sans',sans-serif;font-weight:bold;font-stretch:condensed;font-size:12.5px" transform="rotate(-90 40.20 535.20)">Z0</text>
<text x="71.60" y="458.50" fill="#000000" style="font-family:'DejaVu Sans Condensed','DejaVu Sans',sans-serif;font-weight:bold;font-stretch:condensed;font-size:12.5px" textLength="142.0" lengthAdjust="spacingAndGlyphs">.tran 0 1 0 .1m startup</text>
<text x="211.90" y="521.30" fill="#000000" style="font-family:'DejaVu Sans Condensed','DejaVu Sans',sans-serif;font-weight:bold;font-stretch:condensed;font-size:12.5px" textLength="195.3" lengthAdjust="spacingAndGlyphs">.param fq = .2k f2 = fq*10**-1</text>
<text x="211.90" y="535.20" fill="#000000" style="font-family:'DejaVu Sans Condensed','DejaVu Sans',sans-serif;font-weight:bold;font-stretch:condensed;font-size:12.5px" textLength="180.9" lengthAdjust="spacingAndGlyphs">+ Tc = 1/ fq hC = (Tc-10n)/2</text>
<text x="211.90" y="549.50" fill="#000000" style="font-family:'DejaVu Sans Condensed','DejaVu Sans',sans-serif;font-weight:bold;font-stretch:condensed;font-size:12.5px" textLength="126.8" lengthAdjust="spacingAndGlyphs">+ ca = .2 hca = ca/2</text>
<text x="211.90" y="563.10" fill="#000000" style="font-family:'DejaVu Sans Condensed','DejaVu Sans',sans-serif;font-weight:bold;font-stretch:condensed;font-size:12.5px" textLength="227.8" lengthAdjust="spacingAndGlyphs">+ vlhi = 6.748 - hca vllo = -5.4 + hca</text>
<text x="211.90" y="577.00" fill="#000000" style="font-family:'DejaVu Sans Condensed','DejaVu Sans',sans-serif;font-weight:bold;font-stretch:condensed;font-size:12.5px" textLength="247.8" lengthAdjust="spacingAndGlyphs">+ sfz = (vlhi + vllo)/2 sa = (vlhi - vllo)/2</text>
<line x1="281.50" y1="339.00" x2="281.50" y2="398.00" stroke="#0000ff" stroke-width="1" />
<line x1="281.00" y1="339.50" x2="339.00" y2="339.50" stroke="#0000ff" stroke-width="1" />
<line x1="339.00" y1="339.50" x2="352.00" y2="339.50" stroke="#000080" stroke-width="1" />
<line x1="352.50" y1="331.00" x2="352.50" y2="348.00" stroke="#000080" stroke-width="1" />
<line x1="356.50" y1="331.00" x2="356.50" y2="348.00" stroke="#000080" stroke-width="1" />
<line x1="357.00" y1="339.50" x2="371.00" y2="339.50" stroke="#000080" stroke-width="1" />
<line x1="371.00" y1="339.50" x2="380.00" y2="339.50" stroke="#0000ff" stroke-width="1" />
<line x1="379.50" y1="339.00" x2="379.50" y2="406.00" stroke="#0000ff" stroke-width="1" />
<line x1="281.00" y1="348.50" x2="301.00" y2="348.50" stroke="#0000ff" stroke-width="1" />
<polyline points="301.30,348.50 305.50,340.50 313.70,356.50 322.00,340.50 330.30,356.50 334.40,348.50" fill="none" stroke="#000080" stroke-width="1"/>
<line x1="334.00" y1="348.50" x2="339.00" y2="348.50" stroke="#000080" stroke-width="1" />
<line x1="339.00" y1="348.50" x2="380.00" y2="348.50" stroke="#0000ff" stroke-width="1" />
<rect x="279.00" y="346.00" width="5.00" height="5.00" fill="#0000ff"/>
<rect x="377.00" y="346.00" width="5.00" height="5.00" fill="#0000ff"/>
<line x1="281.00" y1="397.50" x2="298.00" y2="397.50" stroke="#0000ff" stroke-width="1" />
<line x1="281.00" y1="413.50" x2="298.00" y2="413.50" stroke="#0000ff" stroke-width="1" />
<rect x="279.00" y="411.00" width="5.00" height="5.00" fill="#0000ff"/>
<polygon points="297.50,389.5 297.50,421.5 329.50,405.5" fill="none" stroke="#000080" stroke-width="1"/>
<line x1="300.00" y1="397.50" x2="305.00" y2="397.50" stroke="#000080" stroke-width="1" />
<line x1="300.00" y1="413.50" x2="305.00" y2="413.50" stroke="#000080" stroke-width="1" />
<line x1="302.50" y1="411.00" x2="302.50" y2="416.00" stroke="#000080" stroke-width="1" />
<line x1="313.50" y1="385.00" x2="313.50" y2="397.00" stroke="#000080" stroke-width="1" />
<line x1="313.50" y1="414.00" x2="313.50" y2="422.00" stroke="#000080" stroke-width="1" />
<line x1="315.00" y1="395.50" x2="320.00" y2="395.50" stroke="#000080" stroke-width="1" />
<line x1="317.50" y1="393.00" x2="317.50" y2="398.00" stroke="#000080" stroke-width="1" />
<line x1="315.50" y1="415.50" x2="320.50" y2="415.50" stroke="#000080" stroke-width="1" />
<line x1="330.00" y1="405.50" x2="380.00" y2="405.50" stroke="#0000ff" stroke-width="1" />
<line x1="240.00" y1="413.50" x2="244.00" y2="413.50" stroke="#0000ff" stroke-width="1" />
<polyline points="244.30,413.50 248.70,405.50 256.20,421.50 264.30,405.50 272.10,421.50 276.20,413.50 281.50,413.50" fill="none" stroke="#000080" stroke-width="1"/>
<line x1="281.50" y1="413.00" x2="281.50" y2="463.00" stroke="#0000ff" stroke-width="1" />
<line x1="281.00" y1="462.50" x2="290.00" y2="462.50" stroke="#0000ff" stroke-width="1" />
<line x1="290.00" y1="462.50" x2="303.00" y2="462.50" stroke="#000080" stroke-width="1" />
<line x1="303.50" y1="454.00" x2="303.50" y2="472.00" stroke="#000080" stroke-width="1" />
<line x1="307.50" y1="454.00" x2="307.50" y2="472.00" stroke="#000080" stroke-width="1" />
<line x1="308.00" y1="462.50" x2="322.00" y2="462.50" stroke="#000080" stroke-width="1" />
<line x1="322.00" y1="462.50" x2="330.00" y2="462.50" stroke="#0000ff" stroke-width="1" />
<polygon points="330.50,453.5 330.50,471.5 340.00,462.5" fill="none" stroke="#0000ff" stroke-width="1"/>
<text x="308.40" y="336.60" fill="#000000" style="font-family:'DejaVu Sans Condensed','DejaVu Sans',sans-serif;font-weight:bold;font-stretch:condensed;font-size:12.5px">R4</text>
<text x="346.30" y="328.30" fill="#000000" style="font-family:'DejaVu Sans Condensed','DejaVu Sans',sans-serif;font-weight:bold;font-stretch:condensed;font-size:12.5px">C2</text>
<text x="301.90" y="367.30" fill="#000000" style="font-family:'DejaVu Sans Condensed','DejaVu Sans',sans-serif;font-weight:bold;font-stretch:condensed;font-size:12.5px" textLength="29.8" lengthAdjust="spacingAndGlyphs">200k</text>
<text x="340.90" y="359.00" fill="#000000" style="font-family:'DejaVu Sans Condensed','DejaVu Sans',sans-serif;font-weight:bold;font-stretch:condensed;font-size:12.5px" textLength="27.0" lengthAdjust="spacingAndGlyphs">1.8p</text>
<text x="322.20" y="393.50" fill="#000000" style="font-family:'DejaVu Sans Condensed','DejaVu Sans',sans-serif;font-weight:bold;font-stretch:condensed;font-size:12.5px">U1</text>
<text x="355.10" y="402.60" fill="#000000" style="font-family:'DejaVu Sans Condensed','DejaVu Sans',sans-serif;font-weight:bold;font-stretch:condensed;font-size:12.5px">X0</text>
<text x="322.80" y="425.70" fill="#000000" style="font-family:'DejaVu Sans Condensed','DejaVu Sans',sans-serif;font-weight:bold;font-stretch:condensed;font-size:12.5px" textLength="37.1" lengthAdjust="spacingAndGlyphs">TL082</text>
<text x="251.60" y="402.10" fill="#000000" style="font-family:'DejaVu Sans Condensed','DejaVu Sans',sans-serif;font-weight:bold;font-stretch:condensed;font-size:12.5px">R8</text>
<text x="245.00" y="432.50" fill="#000000" style="font-family:'DejaVu Sans Condensed','DejaVu Sans',sans-serif;font-weight:bold;font-stretch:condensed;font-size:12.5px" textLength="29.7" lengthAdjust="spacingAndGlyphs">200k</text>
<text x="223.80" y="417.70" fill="#000000" style="font-family:'DejaVu Sans Condensed','DejaVu Sans',sans-serif;font-weight:bold;font-stretch:condensed;font-size:12.5px">S0</text>
<text x="297.00" y="451.60" fill="#000000" style="font-family:'DejaVu Sans Condensed','DejaVu Sans',sans-serif;font-weight:bold;font-stretch:condensed;font-size:12.5px">C3</text>
<text x="291.90" y="482.00" fill="#000000" style="font-family:'DejaVu Sans Condensed','DejaVu Sans',sans-serif;font-weight:bold;font-stretch:condensed;font-size:12.5px" textLength="26.6" lengthAdjust="spacingAndGlyphs">1.8p</text>
<text x="316.70" y="388.80" fill="#000000" style="font-family:'DejaVu Sans Condensed','DejaVu Sans',sans-serif;font-weight:bold;font-stretch:condensed;font-size:12.5px" transform="rotate(-90 316.70 388.80)">P0</text>
<text x="316.70" y="437.80" fill="#000000" style="font-family:'DejaVu Sans Condensed','DejaVu Sans',sans-serif;font-weight:bold;font-stretch:condensed;font-size:12.5px" transform="rotate(-90 316.70 437.80)">M0</text>
<text x="63.60" y="315.70" fill="#0606c8" style="font-family:'DejaVu Sans Condensed','DejaVu Sans',sans-serif;font-weight:bold;font-stretch:condensed;font-size:12.5px" textLength="368.5" lengthAdjust="spacingAndGlyphs">j-Fet-s' leaking to the INP (also simulated by macro model !)</text>
<text x="150.00" y="330.20" fill="#0606c8" style="font-family:'DejaVu Sans Condensed','DejaVu Sans',sans-serif;font-weight:bold;font-stretch:condensed;font-size:12.5px" textLength="135.8" lengthAdjust="spacingAndGlyphs">@ low supply voltages</text>
<text x="383.60" y="372.80" fill="#0606c8" style="font-family:'DejaVu Sans Condensed','DejaVu Sans',sans-serif;font-weight:bold;font-stretch:condensed;font-size:12.5px">MACRO</text>
<text x="383.60" y="386.80" fill="#0606c8" style="font-family:'DejaVu Sans Condensed','DejaVu Sans',sans-serif;font-weight:bold;font-stretch:condensed;font-size:12.5px">MODEL</text>
<text x="378.90" y="421.40" fill="#0606c8" style="font-family:'DejaVu Sans Condensed','DejaVu Sans',sans-serif;font-weight:bold;font-stretch:condensed;font-size:12.5px">j-Fet input</text>
<text x="378.90" y="436.20" fill="#0606c8" style="font-family:'DejaVu Sans Condensed','DejaVu Sans',sans-serif;font-weight:bold;font-stretch:condensed;font-size:12.5px">13V/µs</text>
<text x="379.70" y="450.50" fill="#0606c8" style="font-family:'DejaVu Sans Condensed','DejaVu Sans',sans-serif;font-weight:bold;font-stretch:condensed;font-size:12.5px">3MHz</text>
<text x="379.70" y="464.50" fill="#0606c8" style="font-family:'DejaVu Sans Condensed','DejaVu Sans',sans-serif;font-weight:bold;font-stretch:condensed;font-size:12.5px" textLength="53.0" lengthAdjust="spacingAndGlyphs">7 to 30V</text>
<text x="338.80" y="483.40" fill="#0606c8" style="font-family:'DejaVu Sans Condensed','DejaVu Sans',sans-serif;font-weight:bold;font-stretch:condensed;font-size:12.5px" textLength="81.1" lengthAdjust="spacingAndGlyphs">±2 to ±4.5 V</text>
<text x="338.80" y="496.90" fill="#0606c8" style="font-family:'DejaVu Sans Condensed','DejaVu Sans',sans-serif;font-weight:bold;font-stretch:condensed;font-size:12.5px" textLength="100.0" lengthAdjust="spacingAndGlyphs">(4 to 9 V) *TEST</text>
<text x="437.40" y="461.40" fill="#0606c8" style="font-family:'DejaVu Sans Condensed','DejaVu Sans',sans-serif;font-weight:bold;font-stretch:condensed;font-size:12.5px;font-size:7px">(*)</text>
<rect x="519.00" y="0.00" width="517.00" height="296.00" fill="#000"/>
<line x1="656.50" y1="19.00" x2="656.50" y2="87.00" stroke="#8c8c8c" stroke-width="1" stroke-dasharray="3 3"/>
<line x1="746.50" y1="19.00" x2="746.50" y2="87.00" stroke="#8c8c8c" stroke-width="1" stroke-dasharray="3 3"/>
<line x1="835.50" y1="19.00" x2="835.50" y2="87.00" stroke="#8c8c8c" stroke-width="1" stroke-dasharray="3 3"/>
<line x1="925.50" y1="19.00" x2="925.50" y2="87.00" stroke="#8c8c8c" stroke-width="1" stroke-dasharray="3 3"/>
<line x1="567.00" y1="52.50" x2="1014.00" y2="52.50" stroke="#8c8c8c" stroke-width="1" stroke-dasharray="3 3"/>
<line x1="656.50" y1="109.00" x2="656.50" y2="177.00" stroke="#8c8c8c" stroke-width="1" stroke-dasharray="3 3"/>
<line x1="746.50" y1="109.00" x2="746.50" y2="177.00" stroke="#8c8c8c" stroke-width="1" stroke-dasharray="3 3"/>
<line x1="835.50" y1="109.00" x2="835.50" y2="177.00" stroke="#8c8c8c" stroke-width="1" stroke-dasharray="3 3"/>
<line x1="925.50" y1="109.00" x2="925.50" y2="177.00" stroke="#8c8c8c" stroke-width="1" stroke-dasharray="3 3"/>
<line x1="567.00" y1="125.50" x2="1014.00" y2="125.50" stroke="#8c8c8c" stroke-width="1" stroke-dasharray="3 3"/>
<line x1="567.00" y1="143.50" x2="1014.00" y2="143.50" stroke="#8c8c8c" stroke-width="1" stroke-dasharray="3 3"/>
<line x1="567.00" y1="160.50" x2="1014.00" y2="160.50" stroke="#8c8c8c" stroke-width="1" stroke-dasharray="3 3"/>
<line x1="656.50" y1="199.00" x2="656.50" y2="270.00" stroke="#8c8c8c" stroke-width="1" stroke-dasharray="3 3"/>
<line x1="746.50" y1="199.00" x2="746.50" y2="270.00" stroke="#8c8c8c" stroke-width="1" stroke-dasharray="3 3"/>
<line x1="835.50" y1="199.00" x2="835.50" y2="270.00" stroke="#8c8c8c" stroke-width="1" stroke-dasharray="3 3"/>
<line x1="925.50" y1="199.00" x2="925.50" y2="270.00" stroke="#8c8c8c" stroke-width="1" stroke-dasharray="3 3"/>
<line x1="567.00" y1="216.50" x2="1014.00" y2="216.50" stroke="#8c8c8c" stroke-width="1" stroke-dasharray="3 3"/>
<line x1="567.00" y1="234.50" x2="1014.00" y2="234.50" stroke="#8c8c8c" stroke-width="1" stroke-dasharray="3 3"/>
<line x1="567.00" y1="252.50" x2="1014.00" y2="252.50" stroke="#8c8c8c" stroke-width="1" stroke-dasharray="3 3"/>
<line x1="560.00" y1="18.50" x2="567.00" y2="18.50" stroke="#c0c0c0" stroke-width="1" />
<text x="559.00" y="23.00" fill="#c0c0c0" stroke="#c0c0c0" style="font-family:'Liberation Sans',sans-serif;font-weight:normal;font-size:14px;stroke-width:0.45px" text-anchor="end">4.4mA</text>
<line x1="560.00" y1="52.50" x2="567.00" y2="52.50" stroke="#c0c0c0" stroke-width="1" />
<text x="559.00" y="57.00" fill="#c0c0c0" stroke="#c0c0c0" style="font-family:'Liberation Sans',sans-serif;font-weight:normal;font-size:14px;stroke-width:0.45px" text-anchor="end">3.1mA</text>
<line x1="560.00" y1="87.50" x2="567.00" y2="87.50" stroke="#c0c0c0" stroke-width="1" />
<text x="559.00" y="92.00" fill="#c0c0c0" stroke="#c0c0c0" style="font-family:'Liberation Sans',sans-serif;font-weight:normal;font-size:14px;stroke-width:0.45px" text-anchor="end">1.8mA</text>
<line x1="560.00" y1="108.50" x2="567.00" y2="108.50" stroke="#c0c0c0" stroke-width="1" />
<text x="559.00" y="113.00" fill="#c0c0c0" stroke="#c0c0c0" style="font-family:'Liberation Sans',sans-serif;font-weight:normal;font-size:14px;stroke-width:0.45px" text-anchor="end">7V</text>
<line x1="560.00" y1="125.50" x2="567.00" y2="125.50" stroke="#c0c0c0" stroke-width="1" />
<text x="559.00" y="130.00" fill="#c0c0c0" stroke="#c0c0c0" style="font-family:'Liberation Sans',sans-serif;font-weight:normal;font-size:14px;stroke-width:0.45px" text-anchor="end">4V</text>
<line x1="560.00" y1="143.50" x2="567.00" y2="143.50" stroke="#c0c0c0" stroke-width="1" />
<text x="559.00" y="148.00" fill="#c0c0c0" stroke="#c0c0c0" style="font-family:'Liberation Sans',sans-serif;font-weight:normal;font-size:14px;stroke-width:0.45px" text-anchor="end">1V</text>
<line x1="560.00" y1="160.50" x2="567.00" y2="160.50" stroke="#c0c0c0" stroke-width="1" />
<text x="559.00" y="165.00" fill="#c0c0c0" stroke="#c0c0c0" style="font-family:'Liberation Sans',sans-serif;font-weight:normal;font-size:14px;stroke-width:0.45px" text-anchor="end">-2V</text>
<line x1="560.00" y1="177.50" x2="567.00" y2="177.50" stroke="#c0c0c0" stroke-width="1" />
<text x="559.00" y="182.00" fill="#c0c0c0" stroke="#c0c0c0" style="font-family:'Liberation Sans',sans-serif;font-weight:normal;font-size:14px;stroke-width:0.45px" text-anchor="end">-5V</text>
<line x1="560.00" y1="198.50" x2="567.00" y2="198.50" stroke="#c0c0c0" stroke-width="1" />
<text x="559.00" y="203.00" fill="#c0c0c0" stroke="#c0c0c0" style="font-family:'Liberation Sans',sans-serif;font-weight:normal;font-size:14px;stroke-width:0.45px" text-anchor="end">0.2µA</text>
<line x1="560.00" y1="216.50" x2="567.00" y2="216.50" stroke="#c0c0c0" stroke-width="1" />
<text x="559.00" y="221.00" fill="#c0c0c0" stroke="#c0c0c0" style="font-family:'Liberation Sans',sans-serif;font-weight:normal;font-size:14px;stroke-width:0.45px" text-anchor="end">-0.4µA</text>
<line x1="560.00" y1="234.50" x2="567.00" y2="234.50" stroke="#c0c0c0" stroke-width="1" />
<text x="559.00" y="239.00" fill="#c0c0c0" stroke="#c0c0c0" style="font-family:'Liberation Sans',sans-serif;font-weight:normal;font-size:14px;stroke-width:0.45px" text-anchor="end">-1.0µA</text>
<line x1="560.00" y1="252.50" x2="567.00" y2="252.50" stroke="#c0c0c0" stroke-width="1" />
<text x="559.00" y="257.00" fill="#c0c0c0" stroke="#c0c0c0" style="font-family:'Liberation Sans',sans-serif;font-weight:normal;font-size:14px;stroke-width:0.45px" text-anchor="end">-1.6µA</text>
<line x1="560.00" y1="270.50" x2="567.00" y2="270.50" stroke="#c0c0c0" stroke-width="1" />
<text x="559.00" y="275.00" fill="#c0c0c0" stroke="#c0c0c0" style="font-family:'Liberation Sans',sans-serif;font-weight:normal;font-size:14px;stroke-width:0.45px" text-anchor="end">-2.2µA</text>
<line x1="567.50" y1="270.00" x2="567.50" y2="277.00" stroke="#c0c0c0" stroke-width="1" />
<text x="567.50" y="290.50" fill="#c0c0c0" stroke="#c0c0c0" style="font-family:'Liberation Sans',sans-serif;font-weight:normal;font-size:14px;stroke-width:0.45px" text-anchor="middle">0ms</text>
<line x1="656.50" y1="270.00" x2="656.50" y2="277.00" stroke="#c0c0c0" stroke-width="1" />
<text x="656.50" y="290.50" fill="#c0c0c0" stroke="#c0c0c0" style="font-family:'Liberation Sans',sans-serif;font-weight:normal;font-size:14px;stroke-width:0.45px" text-anchor="middle">120ms</text>
<line x1="746.50" y1="270.00" x2="746.50" y2="277.00" stroke="#c0c0c0" stroke-width="1" />
<text x="746.50" y="290.50" fill="#c0c0c0" stroke="#c0c0c0" style="font-family:'Liberation Sans',sans-serif;font-weight:normal;font-size:14px;stroke-width:0.45px" text-anchor="middle">240ms</text>
<line x1="835.50" y1="270.00" x2="835.50" y2="277.00" stroke="#c0c0c0" stroke-width="1" />
<text x="835.50" y="290.50" fill="#c0c0c0" stroke="#c0c0c0" style="font-family:'Liberation Sans',sans-serif;font-weight:normal;font-size:14px;stroke-width:0.45px" text-anchor="middle">360ms</text>
<line x1="925.50" y1="270.00" x2="925.50" y2="277.00" stroke="#c0c0c0" stroke-width="1" />
<text x="925.50" y="290.50" fill="#c0c0c0" stroke="#c0c0c0" style="font-family:'Liberation Sans',sans-serif;font-weight:normal;font-size:14px;stroke-width:0.45px" text-anchor="middle">480ms</text>
<line x1="1014.50" y1="270.00" x2="1014.50" y2="277.00" stroke="#c0c0c0" stroke-width="1" />
<text x="1014.50" y="290.50" fill="#c0c0c0" stroke="#c0c0c0" style="font-family:'Liberation Sans',sans-serif;font-weight:normal;font-size:14px;stroke-width:0.45px" text-anchor="middle">600ms</text>
<rect x="567.5" y="18.5" width="447" height="69" fill="none" stroke="#c0c0c0" stroke-width="1"/>
<rect x="567.5" y="108.5" width="447" height="69" fill="none" stroke="#c0c0c0" stroke-width="1"/>
<rect x="567.5" y="198.5" width="447" height="72" fill="none" stroke="#c0c0c0" stroke-width="1"/>
<text x="790.00" y="12.50" fill="#ff0000" stroke="#ff0000" style="font-family:'Liberation Sans',sans-serif;font-weight:normal;font-size:14px;stroke-width:0.45px" textLength="82.0" lengthAdjust="spacingAndGlyphs" text-anchor="middle">(-I(V1)-I(V2))/2</text>
<text x="610.70" y="102.50" fill="#00e8ff" stroke="#00e8ff" style="font-family:'Liberation Sans',sans-serif;font-weight:normal;font-size:14px;stroke-width:0.45px" textLength="51.4" lengthAdjust="spacingAndGlyphs" text-anchor="middle">V(s0,z0)</text>
<text x="699.60" y="102.50" fill="#ff8000" stroke="#ff8000" style="font-family:'Liberation Sans',sans-serif;font-weight:normal;font-size:14px;stroke-width:0.45px" textLength="30.4" lengthAdjust="spacingAndGlyphs" text-anchor="middle">V(s0)</text>
<text x="788.50" y="102.50" fill="#ff00ff" stroke="#ff00ff" style="font-family:'Liberation Sans',sans-serif;font-weight:normal;font-size:14px;stroke-width:0.45px" textLength="31.4" lengthAdjust="spacingAndGlyphs" text-anchor="middle">V(x0)</text>
<text x="877.60" y="102.50" fill="#00ff00" stroke="#00ff00" style="font-family:'Liberation Sans',sans-serif;font-weight:normal;font-size:14px;stroke-width:0.45px" textLength="31.4" lengthAdjust="spacingAndGlyphs" text-anchor="middle">V(p0)</text>
<text x="967.00" y="102.50" fill="#0000ff" stroke="#0000ff" style="font-family:'Liberation Sans',sans-serif;font-weight:normal;font-size:14px;stroke-width:0.45px" textLength="34.6" lengthAdjust="spacingAndGlyphs" text-anchor="middle">V(m0)</text>
<text x="789.40" y="193.00" fill="#ffff00" stroke="#ffff00" style="font-family:'Liberation Sans',sans-serif;font-weight:normal;font-size:14px;stroke-width:0.45px" textLength="55.3" lengthAdjust="spacingAndGlyphs" text-anchor="middle">Ix(x1:P3)</text>
<g clip-path="url(#cr)">
<polyline points="567.50,26.40 567.63,26.50 568.83,27.30 570.03,28.70 570.03,82.70 570.83,82.70 570.83,69.50 585.00,69.50 585.30,71.70 585.80,82.70 586.30,82.70 586.30,49.50 586.80,48.50 586.90,28.90 587.90,27.30 589.10,26.30 605.29,25.76 606.49,26.56 607.69,27.96 607.69,82.70 608.49,82.70 608.49,69.50 621.58,69.50 621.88,71.70 622.38,82.70 622.88,82.70 622.88,49.50 623.38,48.50 623.48,27.69 624.48,26.09 625.68,25.09 643.53,24.12 644.73,24.92 645.93,26.32 645.93,82.70 646.73,82.70 646.73,69.50 657.82,69.50 658.12,71.70 658.62,82.70 659.12,82.70 659.12,49.50 659.62,48.50 659.72,26.05 660.72,24.45 661.92,23.45 681.75,22.59 682.95,23.39 684.15,24.79 684.15,82.70 684.95,82.70 684.95,69.50 694.27,69.50 694.57,71.70 695.07,82.70 695.57,82.70 695.57,49.50 696.07,48.50 696.17,24.88 697.17,23.28 698.37,22.28 719.33,22.11 720.53,22.91 721.73,24.31 721.73,82.70 722.53,82.70 722.53,69.50 731.46,69.50 731.76,71.70 732.26,82.70 732.76,82.70 732.76,49.50 733.26,48.50 733.36,24.86 734.36,23.26 735.56,22.26 756.04,22.91 757.24,23.71 758.44,25.11 758.44,82.70 759.24,82.70 759.24,69.50 769.50,69.50 769.80,71.70 770.30,82.70 770.80,82.70 770.80,49.50 771.30,48.50 771.40,26.06 772.40,24.46 773.60,23.46 792.31,24.47 793.51,25.27 794.71,26.67 794.71,82.70 795.51,82.70 795.51,69.50 807.81,69.50 808.11,71.70 808.61,82.70 809.11,82.70 809.11,49.50 809.61,48.50 809.71,27.79 810.71,26.19 811.91,25.19 828.70,25.95 829.90,26.75 831.10,28.15 831.10,82.70 831.90,82.70 831.90,69.50 845.77,69.50 846.07,71.70 846.57,82.70 847.07,82.70 847.07,49.50 847.57,48.50 847.67,28.96 848.67,27.36 849.87,26.36 865.63,26.50 866.83,27.30 868.03,28.70 868.03,82.70 868.83,82.70 868.83,69.50 883.00,69.50 883.30,71.70 883.80,82.70 884.30,82.70 884.30,49.50 884.80,48.50 884.90,28.90 885.90,27.30 887.10,26.30 903.29,25.76 904.49,26.56 905.69,27.96 905.69,82.70 906.49,82.70 906.49,69.50 919.58,69.50 919.88,71.70 920.38,82.70 920.88,82.70 920.88,49.50 921.38,48.50 921.48,27.69 922.48,26.09 923.68,25.09 941.53,24.12 942.73,24.92 943.93,26.32 943.93,82.70 944.73,82.70 944.73,69.50 955.82,69.50 956.12,71.70 956.62,82.70 957.12,82.70 957.12,49.50 957.62,48.50 957.72,26.05 958.72,24.45 959.92,23.45 979.75,22.59 980.95,23.39 982.15,24.79 982.15,82.70 982.95,82.70 982.95,69.50 992.27,69.50 992.57,71.70 993.07,82.70 993.57,82.70 993.57,49.50 994.07,48.50 994.17,24.88 995.17,23.28 996.37,22.28 1014.50,22.10" fill="none" stroke="#ff0000" stroke-width="1" />
<polyline points="567.50,149.27 567.59,148.23 569.36,148.23 569.46,149.27 571.23,149.27 571.32,148.23 573.09,148.23 573.18,149.27 574.95,149.27 575.04,148.23 576.81,148.23 576.91,149.27 578.67,149.27 578.77,148.23 580.54,148.23 580.63,149.27 582.40,149.27 582.49,148.23 584.26,148.23 584.36,149.27 586.12,149.27 586.22,148.23 587.99,148.23 588.08,149.27 588.55,149.27 590.60,144.31 592.92,140.07 594.88,137.82 596.83,137.04 598.42,137.55 600.00,139.06 602.24,142.66 604.94,148.65 605.03,148.23 606.61,148.23 606.71,149.27 608.48,149.27 608.57,148.23 610.34,148.23 610.43,149.27 612.20,149.27 612.29,148.23 614.06,148.23 614.16,149.27 615.92,149.27 616.02,148.23 617.79,148.23 617.88,149.27 619.65,149.27 619.74,148.23 621.51,148.23 621.61,149.27 623.38,149.27 623.47,148.23 625.24,148.23 625.33,149.27 626.54,149.27 628.31,145.15 630.45,141.53 632.22,139.66 633.99,139.00 635.76,139.62 637.62,141.59 639.86,145.50 641.35,149.27 642.00,149.27 642.09,148.23 643.86,148.23 643.96,149.27 645.73,149.27 645.82,148.23 647.59,148.23 647.68,149.27 649.45,149.27 649.54,148.23 651.31,148.23 651.41,149.27 653.17,149.27 653.27,148.23 655.04,148.23 655.13,149.27 656.90,149.27 656.99,148.23 658.76,148.23 658.86,149.27 660.62,149.27 660.72,148.23 662.49,148.23 662.58,149.27 664.35,149.27 664.44,148.23 664.91,148.23 665.00,148.58 666.77,145.23 668.35,142.99 669.84,141.68 671.33,141.25 672.92,141.79 674.50,143.31 676.46,146.39 677.67,149.27 679.25,149.27 679.34,148.23 681.11,148.23 681.21,149.27 682.98,149.27 683.07,148.23 684.84,148.23 684.93,149.27 686.70,149.27 686.79,148.23 688.56,148.23 688.66,149.27 690.42,149.27 690.52,148.23 692.29,148.23 692.38,149.27 694.15,149.27 694.24,148.23 696.01,148.23 696.11,149.27 697.88,149.27 697.97,148.23 699.74,148.23 699.83,149.27 701.60,149.27 701.69,148.23 702.81,148.23 702.90,148.71 704.67,145.59 706.26,143.64 707.47,142.76 708.68,142.48 710.07,142.89 711.47,144.07 714.36,148.65 714.64,148.23 714.73,149.27 716.50,149.27 716.59,148.23 718.36,148.23 718.46,149.27 720.23,149.27 720.32,148.23 722.09,148.23 722.18,149.27 723.95,149.27 724.04,148.23 725.81,148.23 725.91,149.27 727.67,149.27 727.77,148.23 729.54,148.23 729.63,149.27 731.40,149.27 731.49,148.23 733.26,148.23 733.36,149.27 735.12,149.27 735.22,148.23 736.99,148.23 737.08,149.27 738.85,149.27 738.94,148.23 739.97,148.23 740.06,148.66 741.83,145.41 743.41,143.32 744.72,142.30 746.02,141.95 747.51,142.41 749.09,143.84 751.05,146.81 752.07,149.27 753.75,149.27 753.84,148.23 755.61,148.23 755.71,149.27 757.48,149.27 757.57,148.23 759.34,148.23 759.43,149.27 761.20,149.27 761.29,148.23 763.06,148.23 763.16,149.27 764.92,149.27 765.02,148.23 766.79,148.23 766.88,149.27 768.65,149.27 768.74,148.23 770.51,148.23 770.61,149.27 772.38,149.27 772.47,148.23 774.24,148.23 774.33,149.27 776.10,149.27 776.19,148.23 776.47,148.70 778.43,144.68 780.10,142.08 781.78,140.48 783.36,139.99 785.04,140.59 786.81,142.39 788.95,145.95 790.35,149.27 791.00,149.27 791.09,148.23 792.86,148.23 792.96,149.27 794.73,149.27 794.82,148.23 796.59,148.23 796.68,149.27 798.45,149.27 798.54,148.23 800.31,148.23 800.41,149.27 802.17,149.27 802.27,148.23 804.04,148.23 804.13,149.27 805.90,149.27 805.99,148.23 807.76,148.23 807.86,149.27 809.62,149.27 809.72,148.23 811.49,148.23 811.58,149.27 812.70,149.27 814.37,144.96 816.70,140.70 818.66,138.48 820.52,137.74 822.29,138.36 824.15,140.31 826.11,143.60 828.44,148.64 828.53,148.23 830.11,148.23 830.21,149.27 831.98,149.27 832.07,148.23 833.84,148.23 833.93,149.27 835.70,149.27 835.79,148.23 837.56,148.23 837.66,149.27 839.42,149.27 839.52,148.23 841.29,148.23 841.38,149.27 843.15,149.27 843.24,148.23 845.01,148.23 845.11,149.27 846.88,149.27 846.97,148.23 848.74,148.23 848.83,149.27 849.30,149.27 851.25,144.29 853.77,139.60 855.72,137.32 857.68,136.52 859.35,137.08 861.03,138.74 863.26,142.43 866.06,148.65 866.15,148.23 867.36,148.23 867.46,149.27 869.23,149.27 869.32,148.23 871.09,148.23 871.18,149.27 872.95,149.27 873.04,148.23 874.81,148.23 874.91,149.27 876.67,149.27 876.77,148.23 878.54,148.23 878.63,149.27 880.40,149.27 880.49,148.23 882.26,148.23 882.36,149.27 884.12,149.27 884.22,148.23 885.99,148.23 886.08,149.27 886.55,149.27 888.60,144.31 890.92,140.07 892.88,137.82 894.83,137.04 896.42,137.55 898.00,139.06 900.24,142.66 902.94,148.65 903.03,148.23 904.61,148.23 904.71,149.27 906.48,149.27 906.57,148.23 908.34,148.23 908.43,149.27 910.20,149.27 910.29,148.23 912.06,148.23 912.16,149.27 913.92,149.27 914.02,148.23 915.79,148.23 915.88,149.27 917.65,149.27 917.74,148.23 919.51,148.23 919.61,149.27 921.38,149.27 921.47,148.23 923.24,148.23 923.33,149.27 924.54,149.27 926.31,145.15 928.45,141.53 930.22,139.66 931.99,139.00 933.76,139.62 935.62,141.59 937.86,145.50 939.35,149.27 940.00,149.27 940.09,148.23 941.86,148.23 941.96,149.27 943.73,149.27 943.82,148.23 945.59,148.23 945.68,149.27 947.45,149.27 947.54,148.23 949.31,148.23 949.41,149.27 951.17,149.27 951.27,148.23 953.04,148.23 953.13,149.27 954.90,149.27 954.99,148.23 956.76,148.23 956.86,149.27 958.62,149.27 958.72,148.23 960.49,148.23 960.58,149.27 962.35,149.27 962.44,148.23 962.91,148.23 963.00,148.58 964.77,145.23 966.35,142.99 967.84,141.68 969.33,141.25 970.92,141.79 972.50,143.31 974.46,146.39 975.67,149.27 977.25,149.27 977.34,148.23 979.11,148.23 979.21,149.27 980.98,149.27 981.07,148.23 982.84,148.23 982.93,149.27 984.70,149.27 984.79,148.23 986.56,148.23 986.66,149.27 988.42,149.27 988.52,148.23 990.29,148.23 990.38,149.27 992.15,149.27 992.24,148.23 994.01,148.23 994.11,149.27 995.88,149.27 995.97,148.23 997.74,148.23 997.83,149.27 999.60,149.27 999.69,148.23 1000.81,148.23 1000.90,148.71 1002.67,145.59 1004.26,143.64 1005.47,142.76 1006.68,142.48 1008.07,142.89 1009.47,144.07 1012.36,148.65 1012.64,148.23 1012.73,149.27 1014.50,149.27" fill="none" stroke="#00e8ff" stroke-width="1" />
<polyline points="567.50,144.87 568.99,144.87 572.44,126.02 574.95,115.87 576.81,111.60 577.74,110.68 578.58,110.56 579.51,111.24 580.54,112.94 582.68,119.47 585.01,130.25 588.64,150.76 589.66,153.64 590.60,154.73 592.09,155.20 601.30,156.03 603.26,155.70 604.10,154.63 604.94,152.28 609.03,129.28 611.55,118.07 613.69,112.21 614.71,110.87 615.74,110.54 616.76,111.24 617.79,112.94 620.02,119.83 622.44,131.23 626.63,154.95 627.57,157.62 628.50,158.91 629.99,159.60 637.06,160.72 639.30,160.65 640.42,159.53 641.35,157.02 646.10,130.25 648.70,118.41 650.85,112.38 651.96,110.87 652.99,110.54 654.01,111.24 655.13,113.14 657.46,120.59 659.79,131.73 664.91,160.47 665.56,162.38 666.59,164.15 667.89,164.98 672.27,165.73 675.15,165.74 676.55,164.66 677.67,161.89 683.35,130.25 685.95,118.41 688.10,112.38 689.21,110.87 690.24,110.54 691.36,111.35 692.47,113.35 694.89,121.36 703.18,164.93 704.21,167.02 705.51,168.04 708.12,168.45 711.38,168.31 712.40,167.90 713.15,167.16 714.45,164.18 720.69,129.76 723.30,118.07 725.35,112.38 726.37,110.95 727.40,110.53 728.51,111.24 729.72,113.35 732.14,121.36 740.06,163.65 741.09,166.02 742.11,167.02 743.69,167.36 746.77,167.19 749.00,166.78 750.21,166.12 751.14,164.83 751.98,162.68 759.62,121.76 761.94,113.79 763.06,111.60 764.09,110.63 765.11,110.68 766.14,111.74 768.28,117.08 771.07,129.28 776.47,159.45 777.78,162.35 778.52,162.89 779.64,163.07 787.37,161.85 788.58,161.11 789.51,159.61 790.35,157.02 794.73,132.23 797.05,120.97 799.19,113.79 800.22,111.74 801.24,110.68 802.27,110.63 803.29,111.60 805.34,116.46 808.13,128.33 812.70,153.94 814.00,157.11 814.75,157.67 815.77,157.82 825.36,156.64 826.67,156.05 827.50,154.91 828.53,151.84 832.25,130.74 834.68,119.47 836.91,112.74 837.93,111.13 838.96,110.53 839.98,110.95 841.10,112.55 843.24,118.75 845.66,129.76 849.30,150.25 850.41,153.36 851.35,154.27 852.84,154.53 862.52,154.29 864.38,153.75 865.22,152.59 866.06,150.16 869.78,129.28 872.30,118.07 874.35,112.38 875.37,110.95 876.30,110.52 877.33,111.04 878.35,112.55 880.49,118.75 882.91,129.76 886.64,150.76 887.66,153.64 888.50,154.67 889.81,155.16 900.24,156.02 901.73,155.25 902.94,152.28 907.13,128.80 909.83,117.08 911.69,112.21 912.62,110.95 913.55,110.52 914.58,111.04 915.69,112.74 917.93,119.47 920.35,130.74 924.63,154.95 925.57,157.62 926.50,158.91 927.80,159.55 936.65,160.79 937.49,160.57 938.14,159.98 939.35,157.02 944.19,129.76 946.89,117.73 948.94,112.21 949.96,110.87 950.90,110.53 952.01,111.24 953.13,113.14 955.46,120.59 957.79,131.73 962.91,160.47 963.56,162.38 964.49,164.05 965.80,164.94 968.96,165.58 972.59,165.83 974.27,165.03 975.57,162.26 981.07,131.73 983.30,120.97 985.72,113.14 986.93,111.13 988.05,110.52 989.17,111.13 990.29,112.94 992.62,120.21 994.94,131.23 1000.62,162.82 1002.02,166.75 1003.23,167.91 1005.37,168.40 1009.10,168.36 1010.87,167.50 1012.45,164.18 1014.50,153.42" fill="none" stroke="#ff8000" stroke-width="1" />
<polyline points="567.50,144.87 568.99,144.87 570.01,138.97 586.40,138.41 588.64,150.72 604.94,152.14 607.73,136.54 623.00,134.59 626.63,154.91 641.25,157.09 645.91,131.23 659.23,129.23 664.91,160.47 677.57,162.10 684.19,126.20 695.73,125.28 702.90,164.10 714.36,164.38 721.72,124.68 726.84,124.77 732.98,125.12 740.06,163.52 752.07,162.36 758.50,127.24 770.98,128.84 776.47,159.37 790.25,157.32 794.73,132.35 809.25,134.49 812.79,154.02 828.44,152.10 831.14,137.17 847.25,138.45 849.39,150.43 866.06,150.02 868.01,138.97 884.40,138.41 886.64,150.72 902.94,152.14 905.73,136.54 921.00,134.59 924.63,154.91 939.25,157.09 943.91,131.23 957.23,129.23 962.91,160.47 975.57,162.10 982.19,126.20 993.73,125.28 1000.90,164.10 1012.36,164.38 1014.50,153.42" fill="none" stroke="#ff00ff" stroke-width="1" />
<polyline points="567.50,137.25 584.63,136.79 602.51,135.38 621.14,133.12 673.29,125.66 690.42,123.93 706.07,123.05 726.18,123.02 746.30,124.25 767.16,126.60 809.62,132.81 827.50,135.06 846.88,136.70 865.50,137.25 881.89,136.83 898.28,135.60 917.65,133.33 958.62,127.31 976.50,125.06 995.88,123.42 1014.50,122.88" fill="none" stroke="#00ff00" stroke-width="1" />
<polyline points="567.50,160.25 584.63,160.71 602.51,162.12 621.14,164.38 673.29,171.84 690.42,173.57 706.07,174.45 726.18,174.48 746.30,173.25 767.16,170.90 809.62,164.69 827.50,162.44 846.88,160.80 865.50,160.25 881.89,160.67 898.28,161.90 917.65,164.17 958.62,170.19 976.50,172.44 995.88,174.08 1014.50,174.62" fill="none" stroke="#0000ff" stroke-width="1" />
<polyline points="567.50,209.99 568.02,204.50 588.81,204.50 590.00,217.07 596.93,265.88 603.86,217.07 605.05,204.50 626.88,204.50 627.92,214.69 634.18,255.36 640.44,214.69 641.48,204.50 665.10,204.50 666.06,212.45 671.43,243.28 676.79,212.45 677.76,204.50 702.94,204.50 703.84,211.23 708.68,236.72 713.52,211.23 714.41,204.50 739.97,204.50 740.86,211.77 745.93,239.52 750.99,211.77 751.89,204.50 776.32,204.50 777.29,213.63 783.18,250.04 789.06,213.63 790.03,204.50 812.61,204.50 813.72,216.12 820.43,262.12 827.13,216.12 828.25,204.50 849.33,204.50 850.53,217.36 857.68,268.68 864.83,217.36 866.02,204.50 886.81,204.50 888.00,217.07 894.93,265.88 901.86,217.07 903.05,204.50 924.88,204.50 925.92,214.69 932.18,255.36 938.44,214.69 939.48,204.50 963.10,204.50 964.06,212.45 969.43,243.28 974.79,212.45 975.76,204.50 1000.94,204.50 1001.84,211.23 1006.68,236.72 1011.52,211.23 1012.34,204.75 1012.41,204.50 1014.50,204.50" fill="none" stroke="#ffff00" stroke-width="1" />
</g>
<rect x="519.00" y="296.00" width="517.00" height="296.00" fill="#c3c3c3"/>
<rect x="519.00" y="296.00" width="517.00" height="1.00" fill="#d2d2d2"/>
<line x1="548.00" y1="323.50" x2="558.00" y2="323.50" stroke="#0000ff" stroke-width="1" />
<line x1="557.50" y1="323.00" x2="557.50" y2="335.00" stroke="#0000ff" stroke-width="1" />
<circle cx="557.50" cy="351.50" r="16" fill="none" stroke="#000080" stroke-width="1"/>
<line x1="553.00" y1="342.50" x2="562.00" y2="342.50" stroke="#000080" stroke-width="1" />
<line x1="557.50" y1="338.00" x2="557.50" y2="347.00" stroke="#000080" stroke-width="1" />
<line x1="553.00" y1="362.50" x2="562.00" y2="362.50" stroke="#000080" stroke-width="1" />
<line x1="557.50" y1="367.00" x2="557.50" y2="394.00" stroke="#0000ff" stroke-width="1" />
<rect x="555.00" y="378.00" width="5.00" height="5.00" fill="#0000ff"/>
<line x1="548.50" y1="380.50" x2="557.50" y2="380.50" stroke="#0000ff" stroke-width="1" />
<polygon points="548.50,371.50 548.50,389.50 539.00,380.50" fill="none" stroke="#0000ff" stroke-width="1"/>
<circle cx="557.50" cy="409.50" r="16" fill="none" stroke="#000080" stroke-width="1"/>
<line x1="553.00" y1="400.50" x2="562.00" y2="400.50" stroke="#000080" stroke-width="1" />
<line x1="557.50" y1="396.00" x2="557.50" y2="405.00" stroke="#000080" stroke-width="1" />
<line x1="553.00" y1="420.50" x2="562.00" y2="420.50" stroke="#000080" stroke-width="1" />
<line x1="557.50" y1="425.00" x2="557.50" y2="438.00" stroke="#0000ff" stroke-width="1" />
<line x1="548.00" y1="437.50" x2="558.00" y2="437.50" stroke="#0000ff" stroke-width="1" />
<line x1="548.00" y1="471.50" x2="558.00" y2="471.50" stroke="#0000ff" stroke-width="1" />
<line x1="557.50" y1="471.00" x2="557.50" y2="484.00" stroke="#0000ff" stroke-width="1" />
<circle cx="557.50" cy="499.50" r="16" fill="none" stroke="#000080" stroke-width="1"/>
<line x1="553.00" y1="490.50" x2="562.00" y2="490.50" stroke="#000080" stroke-width="1" />
<line x1="557.50" y1="486.00" x2="557.50" y2="495.00" stroke="#000080" stroke-width="1" />
<line x1="553.00" y1="510.50" x2="562.00" y2="510.50" stroke="#000080" stroke-width="1" />
<line x1="557.50" y1="515.00" x2="557.50" y2="541.00" stroke="#0000ff" stroke-width="1" />
<circle cx="557.50" cy="556.50" r="16" fill="none" stroke="#000080" stroke-width="1"/>
<line x1="553.00" y1="547.50" x2="562.00" y2="547.50" stroke="#000080" stroke-width="1" />
<line x1="557.50" y1="543.00" x2="557.50" y2="552.00" stroke="#000080" stroke-width="1" />
<line x1="553.00" y1="567.50" x2="562.00" y2="567.50" stroke="#000080" stroke-width="1" />
<line x1="557.50" y1="572.00" x2="557.50" y2="578.00" stroke="#0000ff" stroke-width="1" />
<polygon points="548.00,577.50 567.00,577.50 557.50,587.50" fill="none" stroke="#0000ff" stroke-width="1"/>
<ellipse cx="623.40" cy="507.40" rx="32.5" ry="11.8" fill="none" stroke="#000080" stroke-width="1" stroke-dasharray="3 3"/>
<ellipse cx="623.40" cy="565.20" rx="32.5" ry="11.8" fill="none" stroke="#000080" stroke-width="1" stroke-dasharray="3 3"/>
<text x="569.90" y="335.70" fill="#000000" style="font-family:'DejaVu Sans Condensed','DejaVu Sans',sans-serif;font-weight:bold;font-stretch:condensed;font-size:12.5px">V2</text>
<text x="569.90" y="349.90" fill="#000000" style="font-family:'DejaVu Sans Condensed','DejaVu Sans',sans-serif;font-weight:bold;font-stretch:condensed;font-size:12.5px" textLength="170.3" lengthAdjust="spacingAndGlyphs">SINE(3.25 1.25 2.5 0 0 -90)</text>
<text x="569.90" y="364.60" fill="#000000" style="font-family:'DejaVu Sans Condensed','DejaVu Sans',sans-serif;font-weight:bold;font-stretch:condensed;font-size:12.5px">AC .1</text>
<text x="569.90" y="378.50" fill="#000000" style="font-family:'DejaVu Sans Condensed','DejaVu Sans',sans-serif;font-weight:bold;font-stretch:condensed;font-size:12.5px">Rser=1.8</text>
<text x="569.90" y="393.50" fill="#000000" style="font-family:'DejaVu Sans Condensed','DejaVu Sans',sans-serif;font-weight:bold;font-stretch:condensed;font-size:12.5px">V1</text>
<text x="569.90" y="407.20" fill="#000000" style="font-family:'DejaVu Sans Condensed','DejaVu Sans',sans-serif;font-weight:bold;font-stretch:condensed;font-size:12.5px" textLength="170.3" lengthAdjust="spacingAndGlyphs">SINE(3.25 1.25 2.5 0 0 -90)</text>
<text x="569.90" y="421.50" fill="#000000" style="font-family:'DejaVu Sans Condensed','DejaVu Sans',sans-serif;font-weight:bold;font-stretch:condensed;font-size:12.5px">AC .1</text>
<text x="569.90" y="435.80" fill="#000000" style="font-family:'DejaVu Sans Condensed','DejaVu Sans',sans-serif;font-weight:bold;font-stretch:condensed;font-size:12.5px">Rser=1.8</text>
<text x="569.90" y="483.50" fill="#000000" style="font-family:'DejaVu Sans Condensed','DejaVu Sans',sans-serif;font-weight:bold;font-stretch:condensed;font-size:12.5px">V3</text>
<text x="569.90" y="497.50" fill="#000000" style="font-family:'DejaVu Sans Condensed','DejaVu Sans',sans-serif;font-weight:bold;font-stretch:condensed;font-size:12.5px" textLength="258.8" lengthAdjust="spacingAndGlyphs">PULSE({-hca} {hca} 32u 5n 5n {hC} {Tc})</text>
<text x="569.90" y="512.20" fill="#000000" style="font-family:'DejaVu Sans Condensed','DejaVu Sans',sans-serif;font-weight:bold;font-stretch:condensed;font-size:12.5px">Rser=1meg</text>
<text x="569.90" y="540.00" fill="#000000" style="font-family:'DejaVu Sans Condensed','DejaVu Sans',sans-serif;font-weight:bold;font-stretch:condensed;font-size:12.5px">V5</text>
<text x="569.90" y="555.50" fill="#000000" style="font-family:'DejaVu Sans Condensed','DejaVu Sans',sans-serif;font-weight:bold;font-stretch:condensed;font-size:12.5px" textLength="152.8" lengthAdjust="spacingAndGlyphs">SINE({sfz} {sa} {f2} 2m)</text>
<text x="569.90" y="569.60" fill="#000000" style="font-family:'DejaVu Sans Condensed','DejaVu Sans',sans-serif;font-weight:bold;font-stretch:condensed;font-size:12.5px">Rser=1meg</text>
<text x="549.70" y="320.80" fill="#000000" style="font-family:'DejaVu Sans Condensed','DejaVu Sans',sans-serif;font-weight:bold;font-stretch:condensed;font-size:12.5px">P0</text>
<text x="548.30" y="449.70" fill="#000000" style="font-family:'DejaVu Sans Condensed','DejaVu Sans',sans-serif;font-weight:bold;font-stretch:condensed;font-size:12.5px">M0</text>
<text x="549.60" y="468.30" fill="#000000" style="font-family:'DejaVu Sans Condensed','DejaVu Sans',sans-serif;font-weight:bold;font-stretch:condensed;font-size:12.5px">S0</text>
<text x="554.70" y="535.20" fill="#000000" style="font-family:'DejaVu Sans Condensed','DejaVu Sans',sans-serif;font-weight:bold;font-stretch:condensed;font-size:12.5px" transform="rotate(-90 554.70 535.20)">Z0</text>
<text x="586.40" y="458.50" fill="#000000" style="font-family:'DejaVu Sans Condensed','DejaVu Sans',sans-serif;font-weight:bold;font-stretch:condensed;font-size:12.5px" textLength="142.0" lengthAdjust="spacingAndGlyphs">.tran 0 1 0 .1m startup</text>
<text x="734.90" y="521.30" fill="#000000" style="font-family:'DejaVu Sans Condensed','DejaVu Sans',sans-serif;font-weight:bold;font-stretch:condensed;font-size:12.5px" textLength="195.3" lengthAdjust="spacingAndGlyphs">.param fq = .2k f2 = fq*10**-1</text>
<text x="734.90" y="535.20" fill="#000000" style="font-family:'DejaVu Sans Condensed','DejaVu Sans',sans-serif;font-weight:bold;font-stretch:condensed;font-size:12.5px" textLength="180.9" lengthAdjust="spacingAndGlyphs">+ Tc = 1/ fq hC = (Tc-10n)/2</text>
<text x="734.90" y="549.50" fill="#000000" style="font-family:'DejaVu Sans Condensed','DejaVu Sans',sans-serif;font-weight:bold;font-stretch:condensed;font-size:12.5px" textLength="126.8" lengthAdjust="spacingAndGlyphs">+ ca = .2 hca = ca/2</text>
<text x="734.90" y="563.10" fill="#000000" style="font-family:'DejaVu Sans Condensed','DejaVu Sans',sans-serif;font-weight:bold;font-stretch:condensed;font-size:12.5px" textLength="227.8" lengthAdjust="spacingAndGlyphs">+ vlhi = 6.748 - hca vllo = -5.4 + hca</text>
<text x="734.90" y="577.00" fill="#000000" style="font-family:'DejaVu Sans Condensed','DejaVu Sans',sans-serif;font-weight:bold;font-stretch:condensed;font-size:12.5px" textLength="247.8" lengthAdjust="spacingAndGlyphs">+ sfz = (vlhi + vllo)/2 sa = (vlhi - vllo)/2</text>
<line x1="787.50" y1="339.00" x2="787.50" y2="398.00" stroke="#0000ff" stroke-width="1" />
<line x1="787.00" y1="339.50" x2="846.00" y2="339.50" stroke="#0000ff" stroke-width="1" />
<line x1="846.00" y1="339.50" x2="859.00" y2="339.50" stroke="#000080" stroke-width="1" />
<line x1="859.50" y1="331.00" x2="859.50" y2="348.00" stroke="#000080" stroke-width="1" />
<line x1="863.50" y1="331.00" x2="863.50" y2="348.00" stroke="#000080" stroke-width="1" />
<line x1="864.00" y1="339.50" x2="878.00" y2="339.50" stroke="#000080" stroke-width="1" />
<line x1="878.00" y1="339.50" x2="887.00" y2="339.50" stroke="#0000ff" stroke-width="1" />
<line x1="886.50" y1="339.00" x2="886.50" y2="406.00" stroke="#0000ff" stroke-width="1" />
<line x1="787.00" y1="348.50" x2="808.00" y2="348.50" stroke="#0000ff" stroke-width="1" />
<polyline points="808.30,348.50 812.50,340.50 820.70,356.50 829.00,340.50 837.30,356.50 841.40,348.50" fill="none" stroke="#000080" stroke-width="1"/>
<line x1="841.00" y1="348.50" x2="846.00" y2="348.50" stroke="#000080" stroke-width="1" />
<line x1="846.00" y1="348.50" x2="887.00" y2="348.50" stroke="#0000ff" stroke-width="1" />
<rect x="785.00" y="346.00" width="5.00" height="5.00" fill="#0000ff"/>
<rect x="884.00" y="346.00" width="5.00" height="5.00" fill="#0000ff"/>
<line x1="787.00" y1="397.50" x2="805.00" y2="397.50" stroke="#0000ff" stroke-width="1" />
<line x1="787.00" y1="413.50" x2="805.00" y2="413.50" stroke="#0000ff" stroke-width="1" />
<rect x="785.00" y="411.00" width="5.00" height="5.00" fill="#0000ff"/>
<polygon points="804.50,389.5 804.50,421.5 836.50,405.5" fill="none" stroke="#000080" stroke-width="1"/>
<line x1="807.00" y1="397.50" x2="812.00" y2="397.50" stroke="#000080" stroke-width="1" />
<line x1="807.00" y1="413.50" x2="812.00" y2="413.50" stroke="#000080" stroke-width="1" />
<line x1="809.50" y1="411.00" x2="809.50" y2="416.00" stroke="#000080" stroke-width="1" />
<line x1="820.50" y1="385.00" x2="820.50" y2="397.00" stroke="#000080" stroke-width="1" />
<line x1="820.50" y1="414.00" x2="820.50" y2="422.00" stroke="#000080" stroke-width="1" />
<line x1="822.00" y1="395.50" x2="827.00" y2="395.50" stroke="#000080" stroke-width="1" />
<line x1="824.50" y1="393.00" x2="824.50" y2="398.00" stroke="#000080" stroke-width="1" />
<line x1="822.50" y1="415.50" x2="827.50" y2="415.50" stroke="#000080" stroke-width="1" />
<line x1="837.00" y1="405.50" x2="887.00" y2="405.50" stroke="#0000ff" stroke-width="1" />
<line x1="747.00" y1="413.50" x2="751.00" y2="413.50" stroke="#0000ff" stroke-width="1" />
<polyline points="751.30,413.50 755.70,405.50 763.20,421.50 771.30,405.50 779.10,421.50 783.20,413.50 799.50,413.50" fill="none" stroke="#000080" stroke-width="1"/>
<line x1="787.50" y1="413.00" x2="787.50" y2="463.00" stroke="#0000ff" stroke-width="1" />
<line x1="787.00" y1="462.50" x2="797.00" y2="462.50" stroke="#0000ff" stroke-width="1" />
<line x1="797.00" y1="462.50" x2="810.00" y2="462.50" stroke="#000080" stroke-width="1" />
<line x1="810.50" y1="454.00" x2="810.50" y2="472.00" stroke="#000080" stroke-width="1" />
<line x1="814.50" y1="454.00" x2="814.50" y2="472.00" stroke="#000080" stroke-width="1" />
<line x1="815.00" y1="462.50" x2="829.00" y2="462.50" stroke="#000080" stroke-width="1" />
<line x1="829.00" y1="462.50" x2="837.00" y2="462.50" stroke="#0000ff" stroke-width="1" />
<polygon points="837.50,453.5 837.50,471.5 847.00,462.5" fill="none" stroke="#0000ff" stroke-width="1"/>
<text x="815.40" y="336.60" fill="#000000" style="font-family:'DejaVu Sans Condensed','DejaVu Sans',sans-serif;font-weight:bold;font-stretch:condensed;font-size:12.5px">R4</text>
<text x="853.30" y="328.30" fill="#000000" style="font-family:'DejaVu Sans Condensed','DejaVu Sans',sans-serif;font-weight:bold;font-stretch:condensed;font-size:12.5px">C2</text>
<text x="808.90" y="367.30" fill="#000000" style="font-family:'DejaVu Sans Condensed','DejaVu Sans',sans-serif;font-weight:bold;font-stretch:condensed;font-size:12.5px" textLength="29.8" lengthAdjust="spacingAndGlyphs">200k</text>
<text x="847.90" y="359.00" fill="#000000" style="font-family:'DejaVu Sans Condensed','DejaVu Sans',sans-serif;font-weight:bold;font-stretch:condensed;font-size:12.5px" textLength="27.0" lengthAdjust="spacingAndGlyphs">1.8p</text>
<text x="829.20" y="393.50" fill="#000000" style="font-family:'DejaVu Sans Condensed','DejaVu Sans',sans-serif;font-weight:bold;font-stretch:condensed;font-size:12.5px">X1</text>
<text x="862.10" y="402.60" fill="#000000" style="font-family:'DejaVu Sans Condensed','DejaVu Sans',sans-serif;font-weight:bold;font-stretch:condensed;font-size:12.5px">X0</text>
<text x="829.80" y="425.70" fill="#000000" style="font-family:'DejaVu Sans Condensed','DejaVu Sans',sans-serif;font-weight:bold;font-stretch:condensed;font-size:12.5px" textLength="52.1" lengthAdjust="spacingAndGlyphs">TL072vß</text>
<text x="758.60" y="402.10" fill="#000000" style="font-family:'DejaVu Sans Condensed','DejaVu Sans',sans-serif;font-weight:bold;font-stretch:condensed;font-size:12.5px">R8</text>
<text x="752.00" y="432.50" fill="#000000" style="font-family:'DejaVu Sans Condensed','DejaVu Sans',sans-serif;font-weight:bold;font-stretch:condensed;font-size:12.5px" textLength="29.7" lengthAdjust="spacingAndGlyphs">200k</text>
<text x="730.80" y="417.70" fill="#000000" style="font-family:'DejaVu Sans Condensed','DejaVu Sans',sans-serif;font-weight:bold;font-stretch:condensed;font-size:12.5px">S0</text>
<text x="804.00" y="451.60" fill="#000000" style="font-family:'DejaVu Sans Condensed','DejaVu Sans',sans-serif;font-weight:bold;font-stretch:condensed;font-size:12.5px">C3</text>
<text x="798.90" y="482.00" fill="#000000" style="font-family:'DejaVu Sans Condensed','DejaVu Sans',sans-serif;font-weight:bold;font-stretch:condensed;font-size:12.5px" textLength="26.6" lengthAdjust="spacingAndGlyphs">1.8p</text>
<text x="823.70" y="388.80" fill="#000000" style="font-family:'DejaVu Sans Condensed','DejaVu Sans',sans-serif;font-weight:bold;font-stretch:condensed;font-size:12.5px" transform="rotate(-90 823.70 388.80)">P0</text>
<text x="823.70" y="437.80" fill="#000000" style="font-family:'DejaVu Sans Condensed','DejaVu Sans',sans-serif;font-weight:bold;font-stretch:condensed;font-size:12.5px" transform="rotate(-90 823.70 437.80)">M0</text>
<text x="603.50" y="316.00" fill="#0606c8" style="font-family:'DejaVu Sans Condensed','DejaVu Sans',sans-serif;font-weight:bold;font-stretch:condensed;font-size:12.5px" textLength="298.2" lengthAdjust="spacingAndGlyphs">Common mode is where V.xo (outp) = V.so (inp)</text>
<text x="660.00" y="365.00" fill="#0606c8" style="font-family:'DejaVu Sans Condensed','DejaVu Sans',sans-serif;font-weight:bold;font-stretch:condensed;font-size:12.5px" textLength="108.7" lengthAdjust="spacingAndGlyphs">j-Fet-s are leaking</text>
<text x="660.00" y="378.80" fill="#0606c8" style="font-family:'DejaVu Sans Condensed','DejaVu Sans',sans-serif;font-weight:bold;font-stretch:condensed;font-size:12.5px">to the INP</text>
<text x="890.40" y="364.60" fill="#0606c8" style="font-family:'DejaVu Sans Condensed','DejaVu Sans',sans-serif;font-weight:bold;font-stretch:condensed;font-size:12.5px" textLength="101.7" lengthAdjust="spacingAndGlyphs">(EXPERIMENTAL)</text>
<text x="890.40" y="378.70" fill="#0606c8" style="font-family:'DejaVu Sans Condensed','DejaVu Sans',sans-serif;font-weight:bold;font-stretch:condensed;font-size:12.5px" textLength="102.2" lengthAdjust="spacingAndGlyphs">((NOT VERIFIED))</text>
<text x="890.40" y="393.10" fill="#0606c8" style="font-family:'DejaVu Sans Condensed','DejaVu Sans',sans-serif;font-weight:bold;font-stretch:condensed;font-size:12.5px" textLength="74.3" lengthAdjust="spacingAndGlyphs">COMPONENT</text>
<text x="890.40" y="406.80" fill="#0606c8" style="font-family:'DejaVu Sans Condensed','DejaVu Sans',sans-serif;font-weight:bold;font-stretch:condensed;font-size:12.5px">MODEL</text>
<text x="890.40" y="429.70" fill="#0606c8" style="font-family:'DejaVu Sans Condensed','DejaVu Sans',sans-serif;font-weight:bold;font-stretch:condensed;font-size:12.5px">23V/µs</text>
<text x="849.50" y="442.90" fill="#0606c8" style="font-family:'DejaVu Sans Condensed','DejaVu Sans',sans-serif;font-weight:bold;font-stretch:condensed;font-size:12.5px" textLength="80.8" lengthAdjust="spacingAndGlyphs">Min. supply ::</text>
<text x="849.50" y="456.60" fill="#0606c8" style="font-family:'DejaVu Sans Condensed','DejaVu Sans',sans-serif;font-weight:bold;font-stretch:condensed;font-size:12.5px" textLength="113.2" lengthAdjust="spacingAndGlyphs">± 3.21V (+ 6.42V)</text>
<text x="849.50" y="485.50" fill="#0606c8" style="font-family:'DejaVu Sans Condensed','DejaVu Sans',sans-serif;font-weight:bold;font-stretch:condensed;font-size:12.5px" textLength="86.5" lengthAdjust="spacingAndGlyphs">This TEST ::</text>
<text x="849.50" y="499.30" fill="#0606c8" style="font-family:'DejaVu Sans Condensed','DejaVu Sans',sans-serif;font-weight:bold;font-stretch:condensed;font-size:12.5px" textLength="105.2" lengthAdjust="spacingAndGlyphs">± 5.8V (+ 11.6V)</text>
<text x="849.50" y="469.00" fill="#0606c8" style="font-family:'DejaVu Sans Condensed','DejaVu Sans',sans-serif;font-weight:bold;font-stretch:condensed;font-size:12.5px;font-size:10px">*</text>
<rect x="517.00" y="0.00" width="2.00" height="296.00" fill="#d0d0d0"/>
<rect x="517.00" y="296.00" width="2.00" height="296.00" fill="#000"/></svg>
</body></html>
